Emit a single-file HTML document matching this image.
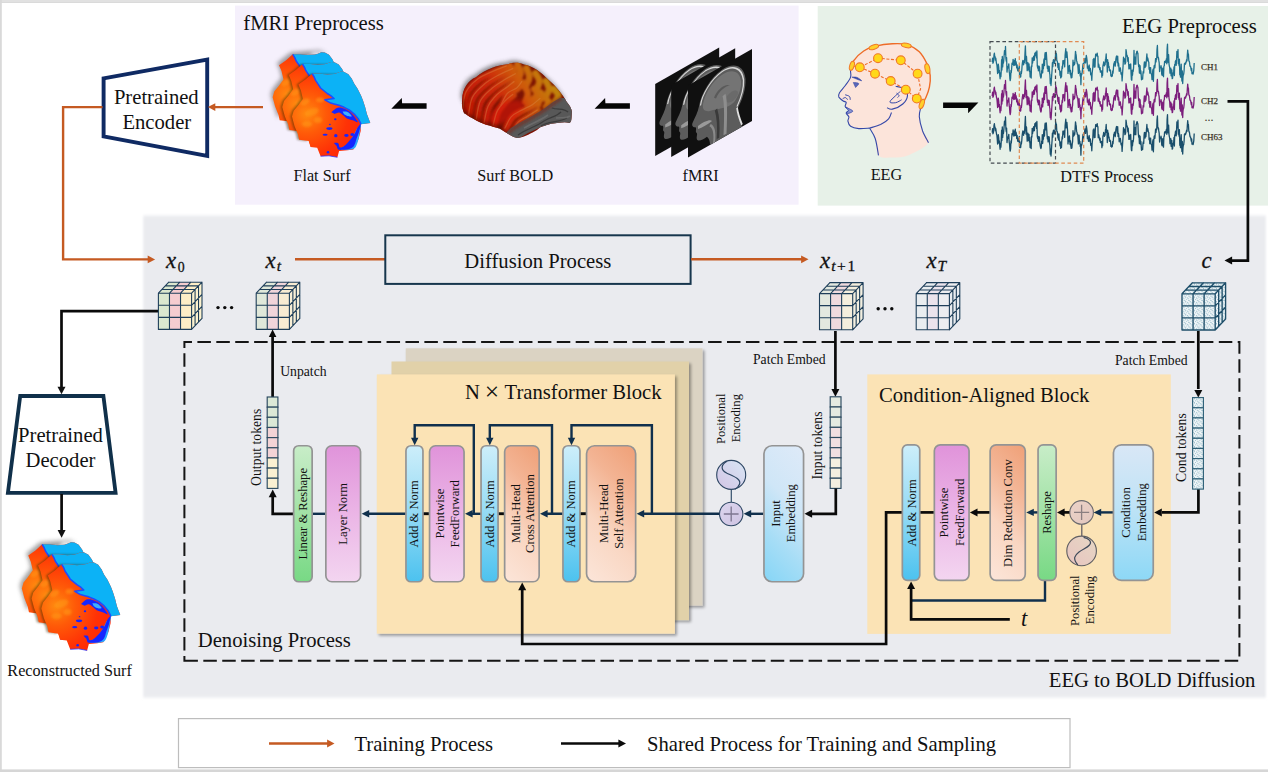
<!DOCTYPE html>
<html><head><meta charset="utf-8"><title>EEG to BOLD Diffusion</title>
<style>
html,body{margin:0;padding:0;background:#fff;}
body{width:1268px;height:772px;overflow:hidden;font-family:"Liberation Serif",serif;}
svg{display:block;font-family:"Liberation Serif",serif;}
</style></head><body>
<svg width="1268" height="772" viewBox="0 0 1268 772">
<defs>
<linearGradient id="gAdd" x1="0" y1="0" x2="0" y2="1"><stop offset="0" stop-color="#cdeefa"/><stop offset="0.45" stop-color="#9adcf5"/><stop offset="1" stop-color="#4cc2ef"/></linearGradient>
<linearGradient id="gPink" x1="0" y1="0" x2="0" y2="1"><stop offset="0" stop-color="#e093da"/><stop offset="0.5" stop-color="#ebb5e6"/><stop offset="1" stop-color="#f3d5f0"/></linearGradient>
<linearGradient id="gOr" x1="1" y1="0" x2="0" y2="1"><stop offset="0" stop-color="#efa077"/><stop offset="0.5" stop-color="#f6c3a8"/><stop offset="1" stop-color="#fce5d8"/></linearGradient>
<linearGradient id="gOrV" x1="0" y1="0" x2="0" y2="1"><stop offset="0" stop-color="#efa27a"/><stop offset="0.5" stop-color="#f6c6ad"/><stop offset="1" stop-color="#fce4d8"/></linearGradient>
<linearGradient id="gGreen" x1="0" y1="0" x2="0" y2="1"><stop offset="0" stop-color="#c8edc8"/><stop offset="0.5" stop-color="#a2e2a6"/><stop offset="1" stop-color="#78d985"/></linearGradient>
<linearGradient id="gBlue" x1="1" y1="0" x2="0" y2="1"><stop offset="0" stop-color="#dde9f8"/><stop offset="0.45" stop-color="#c3e4f7"/><stop offset="1" stop-color="#86d6f6"/></linearGradient>
<linearGradient id="gBlueV" x1="0" y1="0" x2="0" y2="1"><stop offset="0" stop-color="#d9e7f6"/><stop offset="0.45" stop-color="#bfe3f6"/><stop offset="1" stop-color="#8dd8f6"/></linearGradient>
<linearGradient id="gCircP" x1="0" y1="0" x2="1" y2="1"><stop offset="0" stop-color="#dcd6ee"/><stop offset="1" stop-color="#cfc3e2"/></linearGradient>
<linearGradient id="gCircS" x1="1" y1="0" x2="0" y2="1"><stop offset="0" stop-color="#d8e6f5"/><stop offset="1" stop-color="#d2c4e4"/></linearGradient>
<linearGradient id="gCircP2" x1="0" y1="0" x2="1" y2="1"><stop offset="0" stop-color="#ecd3c8"/><stop offset="1" stop-color="#e2c6be"/></linearGradient>
<linearGradient id="gCircS2" x1="1" y1="0" x2="0" y2="1"><stop offset="0" stop-color="#e6d7c4"/><stop offset="1" stop-color="#e8c4c0"/></linearGradient>
<filter id="sh" x="-5%" y="-5%" width="112%" height="112%"><feGaussianBlur in="SourceAlpha" stdDeviation="1.5"/><feOffset dx="1.6" dy="2"/><feComponentTransfer><feFuncA type="linear" slope="0.36"/></feComponentTransfer><feMerge><feMergeNode/><feMergeNode in="SourceGraphic"/></feMerge></filter>
<filter id="b13" x="-1%" y="-2%" width="102%" height="104%"><feGaussianBlur stdDeviation="1.1 1.7"/></filter>
<filter id="b1"><feGaussianBlur stdDeviation="1"/></filter>
<filter id="b08"><feGaussianBlur stdDeviation="0.8"/></filter>
<filter id="b05"><feGaussianBlur stdDeviation="0.5"/></filter>
<filter id="b2"><feGaussianBlur stdDeviation="2"/></filter>
<filter id="b3"><feGaussianBlur stdDeviation="3"/></filter>
<pattern id="spk" width="4.4" height="4.4" patternUnits="userSpaceOnUse"><rect width="4.4" height="4.4" fill="#f1f6f8"/><circle cx="0.9" cy="1.1" r="0.5" fill="#3f829c"/><circle cx="3.1" cy="0.5" r="0.42" fill="#5594ac"/><circle cx="2.1" cy="2.5" r="0.5" fill="#3f829c"/><circle cx="3.9" cy="3.3" r="0.45" fill="#5594ac"/><circle cx="0.6" cy="3.7" r="0.42" fill="#62a0b6"/></pattern>
</defs>

<rect width="1268" height="772" fill="#ffffff"/>
<rect x="235" y="5.6" width="563.6" height="199.1" fill="#f5f0fc"/>
<rect x="817.7" y="6.0" width="451" height="199.6" fill="#e7f1e8"/>
<rect x="143.3" y="215.6" width="1122.5" height="482" fill="#eaebef" filter="url(#b13)"/>
<polygon points="103.6,78.4 207.2,59.6 207.2,156.0 103.6,136.4" fill="#fff" stroke="#0f2a63" stroke-width="3.9" stroke-linejoin="miter"/>
<text x="156.3" y="103.8" font-size="20.65" text-anchor="middle" fill="#111" >Pretrained</text>
<text x="156.8" y="129.0" font-size="20.65" text-anchor="middle" fill="#111" >Encoder</text>
<polyline points="263.0,107.1 214.0,107.1" fill="none" stroke="#c55a22" stroke-width="2.4" />
<polygon points="207.9,107.1 215.3,103.2 215.3,111.0" fill="#c55a22"/>
<polyline points="102.5,107.1 63.1,107.1 63.1,259.4 148.0,259.4" fill="none" stroke="#c55a22" stroke-width="2.4" />
<polygon points="155.1,259.4 147.7,255.5 147.7,263.3" fill="#c55a22"/>
<polyline points="158.4,311.2 61.5,311.2 61.5,388.0" fill="none" stroke="#0a0a0a" stroke-width="2.7" />
<polygon points="61.5,394.3 57.5,386.7 65.5,386.7" fill="#111"/>
<polygon points="20.2,396.0 103.4,396.0 115.6,492.9 7.9,492.9" fill="#fff" stroke="#10304a" stroke-width="3.8"/>
<text x="60.5" y="442.3" font-size="20.65" text-anchor="middle" fill="#111" >Pretrained</text>
<text x="60.5" y="467.2" font-size="20.65" text-anchor="middle" fill="#111" >Decoder</text>
<polyline points="61.6,494.0 61.6,531.0" fill="none" stroke="#0a0a0a" stroke-width="2.7" />
<polygon points="61.6,537.7 57.6,530.1 65.6,530.1" fill="#111"/>
<text x="69.6" y="676.0" font-size="16.2" text-anchor="middle" fill="#111" >Reconstructed Surf</text>
<text x="243.3" y="30.4" font-size="20.65" text-anchor="start" fill="#111" >fMRI Preprocess</text>
<text x="1256.8" y="32.6" font-size="20.65" text-anchor="end" fill="#111" >EEG Preprocess</text>
<text x="322.0" y="181.0" font-size="16.2" text-anchor="middle" fill="#111" >Flat Surf</text>
<text x="515.3" y="181.0" font-size="16.2" text-anchor="middle" fill="#111" >Surf BOLD</text>
<text x="700.6" y="181.0" font-size="16.2" text-anchor="middle" fill="#111" >fMRI</text>
<text x="886.4" y="180.0" font-size="16.2" text-anchor="middle" fill="#111" >EEG</text>
<text x="1106.8" y="181.8" font-size="16.2" text-anchor="middle" fill="#111" >DTFS Process</text>
<polygon points="391.3,108.7 401.8,98.0 402.1,103.2 426.6,103.2 426.6,108.7" fill="#050505"/>
<polygon points="594.6,108.7 605.1,98.0 605.4,103.2 629.9,103.2 629.9,108.7" fill="#050505"/>
<polygon points="943.1,102.6 978.4,102.6 968.1,113.3 968.1,107.9 943.1,107.9" fill="#050505"/>
<polyline points="1227.5,101.4 1247.9,101.4 1247.9,260.6 1232.0,260.6" fill="none" stroke="#0a0a0a" stroke-width="2.7" />
<polygon points="1224.5,260.6 1232.1,256.6 1232.1,264.6" fill="#0a0a0a"/>
<polyline points="295.0,259.3 385.2,259.3" fill="none" stroke="#c55a22" stroke-width="2.4" />
<rect x="385.3" y="235.3" width="305.3" height="48.6" fill="#eaebef" stroke="#17364d" stroke-width="2"/>
<text x="537.8" y="267.5" font-size="20.65" text-anchor="middle" fill="#111" >Diffusion Process</text>
<polyline points="691.0,259.3 802.0,259.3" fill="none" stroke="#c55a22" stroke-width="2.4" />
<polygon points="808.5,259.3 801.1,255.4 801.1,263.2" fill="#c55a22"/>
<text x="166" y="268" font-size="22.8" font-style="italic" fill="#111" stroke="#111" stroke-width="0.3">x</text><text x="177.8" y="272" font-size="13.8" fill="#111" stroke="#111" stroke-width="0.3">0</text>
<text x="265.6" y="268.0" font-size="22.8" font-style="italic" fill="#111" stroke="#111" stroke-width="0.3">x</text><text x="276.8" y="271.2" font-size="15.5" font-style="italic" fill="#111" letter-spacing="0" stroke="#111" stroke-width="0.3">t</text>
<text x="820.0" y="268.0" font-size="22.8" font-style="italic" fill="#111" stroke="#111" stroke-width="0.3">x</text><text x="831.2" y="271.2" font-size="15.5" font-style="italic" fill="#111" letter-spacing="1.6" stroke="#111" stroke-width="0.3">t<tspan font-style="normal">+1</tspan></text>
<text x="926.4" y="268.0" font-size="22.8" font-style="italic" fill="#111" stroke="#111" stroke-width="0.3">x</text><text x="937.6" y="271.2" font-size="15.5" font-style="italic" fill="#111" letter-spacing="0" stroke="#111" stroke-width="0.3">T</text>
<text x="1201.5" y="267.8" font-size="22.8" font-style="italic" fill="#111" stroke="#111" stroke-width="0.3">c</text>
<rect x="158.40" y="293.20" width="11.07" height="36.20" fill="#dbe8cf"/><rect x="169.47" y="293.20" width="11.07" height="36.20" fill="#f5cdd0"/><rect x="180.53" y="293.20" width="11.07" height="36.20" fill="#fdeec6"/><polygon points="158.40,293.20 169.47,293.20 179.87,282.20 168.80,282.20" fill="#dbe8cf"/><polygon points="169.47,293.20 180.53,293.20 190.93,282.20 179.87,282.20" fill="#f5cdd0"/><polygon points="180.53,293.20 191.60,293.20 202.00,282.20 190.93,282.20" fill="#fdeec6"/><polygon points="191.60,293.20 202.00,282.20 202.00,318.40 191.60,329.40" fill="#fdf3cf"/><path d="M158.40 293.20V329.40M158.40 293.20H191.60M158.40 293.20l10.40 -11.00M158.40 293.20h33.20M191.60 293.20v36.20M191.60 293.20l10.40 -11.00M169.47 293.20V329.40M158.40 305.27H191.60M169.47 293.20l10.40 -11.00M161.87 289.53h33.20M195.07 289.53v36.20M191.60 305.27l10.40 -11.00M180.53 293.20V329.40M158.40 317.33H191.60M180.53 293.20l10.40 -11.00M165.33 285.87h33.20M198.53 285.87v36.20M191.60 317.33l10.40 -11.00M191.60 293.20V329.40M158.40 329.40H191.60M191.60 293.20l10.40 -11.00M168.80 282.20h33.20M202.00 282.20v36.20M191.60 329.40l10.40 -11.00" fill="none" stroke="#1f3f5a" stroke-width="1.1" stroke-linejoin="round" stroke-linecap="round"/>
<rect x="256.20" y="293.20" width="11.07" height="36.20" fill="#e0e8da"/><rect x="267.27" y="293.20" width="11.07" height="36.20" fill="#f0d5da"/><rect x="278.33" y="293.20" width="11.07" height="36.20" fill="#f8ecd2"/><polygon points="256.20,293.20 267.27,293.20 277.67,282.20 266.60,282.20" fill="#e0e8da"/><polygon points="267.27,293.20 278.33,293.20 288.73,282.20 277.67,282.20" fill="#f0d5da"/><polygon points="278.33,293.20 289.40,293.20 299.80,282.20 288.73,282.20" fill="#f8ecd2"/><polygon points="289.40,293.20 299.80,282.20 299.80,318.40 289.40,329.40" fill="#f8efd6"/><path d="M256.20 293.20V329.40M256.20 293.20H289.40M256.20 293.20l10.40 -11.00M256.20 293.20h33.20M289.40 293.20v36.20M289.40 293.20l10.40 -11.00M267.27 293.20V329.40M256.20 305.27H289.40M267.27 293.20l10.40 -11.00M259.67 289.53h33.20M292.87 289.53v36.20M289.40 305.27l10.40 -11.00M278.33 293.20V329.40M256.20 317.33H289.40M278.33 293.20l10.40 -11.00M263.13 285.87h33.20M296.33 285.87v36.20M289.40 317.33l10.40 -11.00M289.40 293.20V329.40M256.20 329.40H289.40M289.40 293.20l10.40 -11.00M266.60 282.20h33.20M299.80 282.20v36.20M289.40 329.40l10.40 -11.00" fill="none" stroke="#1f3f5a" stroke-width="1.1" stroke-linejoin="round" stroke-linecap="round"/>
<rect x="819.50" y="293.60" width="11.07" height="36.20" fill="#e3e9e0"/><rect x="830.57" y="293.60" width="11.07" height="36.20" fill="#efdade"/><rect x="841.63" y="293.60" width="11.07" height="36.20" fill="#f4eedd"/><polygon points="819.50,293.60 830.57,293.60 840.97,282.60 829.90,282.60" fill="#e3e9e0"/><polygon points="830.57,293.60 841.63,293.60 852.03,282.60 840.97,282.60" fill="#efdade"/><polygon points="841.63,293.60 852.70,293.60 863.10,282.60 852.03,282.60" fill="#f4eedd"/><polygon points="852.70,293.60 863.10,282.60 863.10,318.80 852.70,329.80" fill="#f3efe0"/><path d="M819.50 293.60V329.80M819.50 293.60H852.70M819.50 293.60l10.40 -11.00M819.50 293.60h33.20M852.70 293.60v36.20M852.70 293.60l10.40 -11.00M830.57 293.60V329.80M819.50 305.67H852.70M830.57 293.60l10.40 -11.00M822.97 289.93h33.20M856.17 289.93v36.20M852.70 305.67l10.40 -11.00M841.63 293.60V329.80M819.50 317.73H852.70M841.63 293.60l10.40 -11.00M826.43 286.27h33.20M859.63 286.27v36.20M852.70 317.73l10.40 -11.00M852.70 293.60V329.80M819.50 329.80H852.70M852.70 293.60l10.40 -11.00M829.90 282.60h33.20M863.10 282.60v36.20M852.70 329.80l10.40 -11.00" fill="none" stroke="#1f3f5a" stroke-width="1.1" stroke-linejoin="round" stroke-linecap="round"/>
<rect x="916.20" y="293.60" width="11.07" height="36.20" fill="#e9edf0"/><rect x="927.27" y="293.60" width="11.07" height="36.20" fill="#ebe3ec"/><rect x="938.33" y="293.60" width="11.07" height="36.20" fill="#ecedf0"/><polygon points="916.20,293.60 927.27,293.60 937.67,282.60 926.60,282.60" fill="#e9edf0"/><polygon points="927.27,293.60 938.33,293.60 948.73,282.60 937.67,282.60" fill="#ebe3ec"/><polygon points="938.33,293.60 949.40,293.60 959.80,282.60 948.73,282.60" fill="#ecedf0"/><polygon points="949.40,293.60 959.80,282.60 959.80,318.80 949.40,329.80" fill="#e9ecf0"/><path d="M916.20 293.60V329.80M916.20 293.60H949.40M916.20 293.60l10.40 -11.00M916.20 293.60h33.20M949.40 293.60v36.20M949.40 293.60l10.40 -11.00M927.27 293.60V329.80M916.20 305.67H949.40M927.27 293.60l10.40 -11.00M919.67 289.93h33.20M952.87 289.93v36.20M949.40 305.67l10.40 -11.00M938.33 293.60V329.80M916.20 317.73H949.40M938.33 293.60l10.40 -11.00M923.13 286.27h33.20M956.33 286.27v36.20M949.40 317.73l10.40 -11.00M949.40 293.60V329.80M916.20 329.80H949.40M949.40 293.60l10.40 -11.00M926.60 282.60h33.20M959.80 282.60v36.20M949.40 329.80l10.40 -11.00" fill="none" stroke="#1f3f5a" stroke-width="1.1" stroke-linejoin="round" stroke-linecap="round"/>
<rect x="1182.00" y="293.80" width="11.07" height="36.20" fill="url(#spk)"/><rect x="1193.07" y="293.80" width="11.07" height="36.20" fill="url(#spk)"/><rect x="1204.13" y="293.80" width="11.07" height="36.20" fill="url(#spk)"/><polygon points="1182.00,293.80 1193.07,293.80 1203.47,282.80 1192.40,282.80" fill="url(#spk)"/><polygon points="1193.07,293.80 1204.13,293.80 1214.53,282.80 1203.47,282.80" fill="url(#spk)"/><polygon points="1204.13,293.80 1215.20,293.80 1225.60,282.80 1214.53,282.80" fill="url(#spk)"/><polygon points="1215.20,293.80 1225.60,282.80 1225.60,319.00 1215.20,330.00" fill="url(#spk)"/><path d="M1182.00 293.80V330.00M1182.00 293.80H1215.20M1182.00 293.80l10.40 -11.00M1182.00 293.80h33.20M1215.20 293.80v36.20M1215.20 293.80l10.40 -11.00M1193.07 293.80V330.00M1182.00 305.87H1215.20M1193.07 293.80l10.40 -11.00M1185.47 290.13h33.20M1218.67 290.13v36.20M1215.20 305.87l10.40 -11.00M1204.13 293.80V330.00M1182.00 317.93H1215.20M1204.13 293.80l10.40 -11.00M1188.93 286.47h33.20M1222.13 286.47v36.20M1215.20 317.93l10.40 -11.00M1215.20 293.80V330.00M1182.00 330.00H1215.20M1215.20 293.80l10.40 -11.00M1192.40 282.80h33.20M1225.60 282.80v36.20M1215.20 330.00l10.40 -11.00" fill="none" stroke="#1f4f6a" stroke-width="1.35" stroke-linejoin="round" stroke-linecap="round"/>
<circle cx="218.0" cy="307.6" r="1.7" fill="#0a0a0a"/><circle cx="224.8" cy="307.6" r="1.7" fill="#0a0a0a"/><circle cx="231.6" cy="307.6" r="1.7" fill="#0a0a0a"/>
<circle cx="878.2" cy="308.8" r="1.7" fill="#0a0a0a"/><circle cx="885.0" cy="308.8" r="1.7" fill="#0a0a0a"/><circle cx="891.8" cy="308.8" r="1.7" fill="#0a0a0a"/>
<path d="M184.4 660.7H1239.4V342H184.4Z" fill="none" stroke="#151515" stroke-width="2" stroke-dasharray="13.5 5.415"/>
<text x="197.8" y="647.4" font-size="20.65" text-anchor="start" fill="#111" >Denoising Process</text>
<text x="1255.4" y="687.1" font-size="20.65" text-anchor="end" fill="#111" >EEG to BOLD Diffusion</text>
<rect x="178.5" y="718.6" width="891.5" height="49" fill="#fff" stroke="#bdbdbd" stroke-width="1.2"/>
<polyline points="269.0,743.5 328.0,743.5" fill="none" stroke="#c55a22" stroke-width="2.4" />
<polygon points="334.5,743.5 327.1,739.6 327.1,747.4" fill="#c55a22"/>
<text x="354.4" y="750.6" font-size="20.65" text-anchor="start" fill="#111" >Training Process</text>
<polyline points="561.0,743.5 620.0,743.5" fill="none" stroke="#0a0a0a" stroke-width="2.7" />
<polygon points="626.0,743.5 618.4,739.5 618.4,747.5" fill="#0a0a0a"/>
<text x="647.0" y="750.6" font-size="20.65" text-anchor="start" fill="#111" >Shared Process for Training and Sampling</text>
<defs>
<radialGradient id="fsG" gradientUnits="userSpaceOnUse" cx="46.3" cy="74.1" r="55.6"><stop offset="0" stop-color="#ff8a10"/><stop offset="0.35" stop-color="#ff5a08"/><stop offset="0.75" stop-color="#ff3206"/><stop offset="1" stop-color="#ff2806"/></radialGradient>
<g id="fsL">
<polygon points="52.2,33.7 45.5,39.6 38.4,44.6 40.9,50.5 42.9,58.9 37.9,65.7 33.7,70.7 32.0,76.6 34.5,85.9 37.9,94.3 39.1,99.7 48.8,101.0 50.5,106.9 57.2,107.7 60.6,116.2 69.0,115.8 77.4,117.3 79.1,111.1 87.5,110.3 93.4,109.4 98.5,99.3 100.7,90.9 101.0,84.2 110.3,83.0 106.9,74.1 105.2,67.3 103.0,60.6 101.0,55.6 97.6,48.8 94.3,43.8 91.8,38.7 88.4,34.2 84.2,32.0 80.8,31.6 76.6,33.3 74.1,34.0 67.3,34.5 59.8,33.7" fill="url(#fsG)"/>
<path d="M101.3 83.5C101.1 84.7 100.5 88.3 100.0 90.8C99.6 93.3 99.3 95.9 98.6 98.6C97.9 101.3 97.0 105.0 95.7 106.9C94.4 108.7 93.6 109.1 90.8 109.5C88.1 109.9 79.8 110.1 79.2 109.3C78.5 108.4 84.7 106.5 86.9 104.4C89.2 102.3 91.1 99.2 92.8 96.6C94.4 94.1 96.0 90.2 96.6 88.9Z" fill="#2aa6ff"/>
<g fill="#1626ff">
<path d="M73.8 103.0C74.5 103.0 77.2 102.5 78.2 103.3C79.2 104.0 78.7 106.8 79.6 107.3C80.5 107.9 82.2 107.1 83.5 106.4C84.8 105.6 86.1 104.3 87.4 103.0C88.7 101.7 90.0 100.3 91.3 98.6C92.6 96.9 94.1 94.6 95.2 92.8C96.2 90.9 96.7 88.9 97.6 87.4C98.5 86.0 100.5 83.3 100.7 84.0C101.0 84.7 99.8 89.4 99.1 91.8C98.4 94.2 97.5 96.3 96.6 98.6C95.8 100.9 95.4 103.7 94.2 105.4C93.1 107.1 91.7 108.1 89.8 108.8C88.0 109.5 85.0 109.7 83.0 109.8C81.1 109.9 79.2 110.1 78.2 109.5C77.1 108.8 77.0 106.5 76.7 105.9Z"/>
<path d="M71.4 72.2C72.4 71.4 75.4 68.2 77.7 67.7C80.0 67.2 82.6 68.0 85.0 69.0C87.4 70.1 89.8 71.7 92.0 73.9C94.1 76.1 97.7 81.0 97.8 82.1C97.9 83.1 94.6 80.9 92.8 80.3C90.9 79.7 88.5 79.2 86.9 78.4C85.4 77.6 84.8 76.4 83.5 75.5C82.2 74.5 80.6 72.8 79.2 72.5C77.7 72.3 75.5 73.7 74.8 73.9Z"/>
<ellipse cx="75.3" cy="79.2" rx="1.2" ry="1.0"/>
<ellipse cx="69.9" cy="84.5" rx="0.8" ry="0.7"/>
<ellipse cx="69.4" cy="88.6" rx="3.1" ry="1.3"/>
<ellipse cx="65.1" cy="94.7" rx="2.5" ry="1.0"/>
<ellipse cx="75.8" cy="95.7" rx="1.7" ry="1.6"/>
<ellipse cx="86.4" cy="95.5" rx="2.1" ry="1.4"/>
<ellipse cx="92.3" cy="94.5" rx="1.9" ry="1.5"/>
<ellipse cx="68.0" cy="112.2" rx="1.3" ry="1.2"/>
<ellipse cx="79.2" cy="64.6" rx="1.9" ry="1.0"/>
</g>
<path d="M82.6 71.6C83.4 71.7 86.4 71.4 87.9 72.2C89.4 72.9 91.9 75.6 91.8 76.2C91.7 76.9 88.7 76.4 87.4 76.0C86.1 75.7 84.6 74.6 84.0 74.3Z" fill="#3fb0ff"/>
<polygon points="52.2,33.7 59.8,33.7 67.3,34.5 74.1,34.0 76.6,33.3 80.8,31.6 84.2,32.0 88.4,34.2 91.8,38.7 94.3,43.8 97.6,48.8 101.0,55.6 103.0,60.6 105.2,67.3 106.9,74.1 110.3,83.0 101.0,84.2 98.5,79.1 94.3,74.1 89.2,69.9 84.2,67.3 79.1,65.3 74.1,64.0 70.7,63.1 64.8,59.8 74.1,58.6 70.7,55.6 67.3,53.5 63.6,50.5 60.6,48.0 58.1,44.1 55.6,40.4 54.2,37.0" fill="#0cb2f6"/>
<polyline points="52.2,33.7 54.2,37.0 55.6,40.4 58.1,44.1 60.6,48.0 63.6,50.5 67.3,53.5 70.7,55.6 74.1,58.6 64.8,59.8 70.7,63.1 74.1,64.0 79.1,65.3 84.2,67.3 89.2,69.9 94.3,74.1 98.5,79.1 101.0,84.2" fill="none" stroke="#1f4cff" stroke-width="1.5" stroke-linejoin="round"/>
<polyline points="60.6,116.2 69.0,115.8 77.4,117.3" fill="none" stroke="#2a35ff" stroke-width="0.8"/>
<g fill="#ff9a18" opacity="0.55" filter="url(#b1)"><ellipse cx="45" cy="62" rx="5" ry="3" transform="rotate(-30 45 62)"/><ellipse cx="52" cy="72" rx="7" ry="3.5" transform="rotate(-20 52 72)"/><ellipse cx="47" cy="84" rx="5" ry="3"/><ellipse cx="60" cy="60" rx="4" ry="2.5"/><ellipse cx="58" cy="80" rx="4" ry="3"/></g>
</g>
<g id="fsAll">
<polygon points="52.2,33.7 38.4,44.6 40.9,50.5 42.9,58.9 33.7,70.7 32.0,76.6 39.1,99.7 50.5,84.2 67.3,50.5 74.1,34.0 88.4,34.2 80.8,31.6" fill="#555" opacity="0.55" filter="url(#b2)" transform="translate(-21.5 -21.5)"/>
<use href="#fsL" transform="translate(-19.4 -19.4)"/>
<polygon points="52.2,33.7 45.5,39.6 38.4,44.6 40.9,50.5 42.9,58.9 37.9,65.7 33.7,70.7 32.0,76.6 34.5,85.9 37.9,94.3 39.1,99.7 48.8,101.0 50.5,94.3 50.5,67.3 55.6,50.5 67.3,38.7 84.2,36.2 88.4,34.2" fill="#3a2a00" opacity="0.5" filter="url(#b1)" transform="translate(-11.5 -9.7)"/>
<use href="#fsL" transform="translate(-9.7 -9.7)"/>
<polygon points="52.2,33.7 45.5,39.6 38.4,44.6 40.9,50.5 42.9,58.9 37.9,65.7 33.7,70.7 32.0,76.6 34.5,85.9 37.9,94.3 39.1,99.7 48.8,101.0 50.5,94.3 50.5,67.3 55.6,50.5 67.3,38.7 84.2,36.2 88.4,34.2" fill="#3a2a00" opacity="0.5" filter="url(#b1)" transform="translate(-1.8 0)"/>
<use href="#fsL"/>
</g>
<linearGradient id="brG" gradientUnits="userSpaceOnUse" x1="470" y1="125" x2="560" y2="70"><stop offset="0" stop-color="#d81606"/><stop offset="0.38" stop-color="#ee3208"/><stop offset="0.62" stop-color="#ee6a0c"/><stop offset="0.85" stop-color="#e09a0c"/><stop offset="1" stop-color="#d8b010"/></linearGradient>
<clipPath id="brC"><path id="brP" d="M462.3 99.2C462 90 468 80 475.9 77.2C486 69 497 65 508.3 64.2C513 62 520 62.5 524 64.5C533 66 541 72 548.4 79.8C556 86 563 95 566.6 101.8C569.5 105 572.5 110 571.8 113C571.5 119 571.5 122 569.5 123C564 121.5 560 123 551 123.8C545 126 541 126 537 130C531 133 526 137 517.4 138.1C512 137 509 134 505 132C500 128 497 128 491 126C483 124 478 121.5 473.3 118.7C468 116 465 113 464.2 113.5C462 108 461.5 104 462.3 99.2Z"/></clipPath>
</defs>
<use href="#fsAll" transform="translate(260 40)"/>
<use href="#fsAll" transform="translate(9.1 529.6) scale(1.008 1.03)"/>
<path d="M462.3 99.2C462 90 468 80 475.9 77.2C486 69 497 65 508.3 64.2C513 62 520 62.5 524 64.5C533 66 541 72 548.4 79.8C556 86 563 95 566.6 101.8L520 110 470 115Z" fill="#444" opacity="0.6" filter="url(#b2)" transform="translate(-1.5 -2.2)"/>
<g clip-path="url(#brC)">
<rect x="455" y="55" width="125" height="90" fill="#8c1606"/>
<g fill="none" stroke="url(#brG)" stroke-width="6.6" stroke-linecap="round" stroke-linejoin="round" filter="url(#b08)">
<path d="M463.6 108.9C464.1 106.2 464.4 97.6 466.8 92.7C469.3 87.9 474.0 83.2 478.5 79.8C483.0 76.3 489.3 74.2 494.0 72.0C498.8 69.9 504.8 67.7 507.0 66.8"/>
<path d="M469.4 114.8C470.1 112.0 470.7 102.9 473.3 97.9C475.9 93.0 480.7 88.6 485.0 85.0C489.3 81.3 494.5 78.5 499.2 75.9C504.0 73.3 511.1 70.5 513.5 69.4"/>
<path d="M477.2 119.3C477.8 116.4 478.7 106.7 481.1 101.8C483.5 97.0 487.6 93.6 491.5 90.2C495.3 86.7 500.3 83.7 504.4 81.1C508.5 78.5 514.1 75.7 516.1 74.6"/>
<path d="M485.0 123.2C485.6 120.5 486.7 111.6 488.9 107.0C491.0 102.4 494.7 98.6 497.9 95.3C501.2 92.1 505.5 89.7 508.3 87.6C511.1 85.4 513.7 83.2 514.8 82.4"/>
<path d="M494.0 125.8C494.7 123.5 496.0 116.2 497.9 112.2C499.9 108.2 503.1 104.6 505.7 101.8C508.3 99.0 512.2 96.4 513.5 95.3"/>
<path d="M501.8 105.7C502.9 103.8 505.7 96.8 508.3 94.0C510.9 91.2 515.0 90.8 517.4 88.9C519.7 86.9 521.7 83.5 522.5 82.4"/>
<path d="M505.7 129.0C506.8 127.1 509.4 120.4 512.2 117.4C515.0 114.3 519.1 112.8 522.5 110.9C526.0 108.9 529.9 107.6 532.9 105.7C535.9 103.8 539.4 100.3 540.7 99.2"/>
<path d="M513.5 132.9C514.3 131.3 516.1 125.9 518.7 123.2C521.2 120.5 525.8 118.8 529.0 116.7C532.3 114.7 536.6 111.9 538.1 110.9"/>
<path d="M517.4 64.2C517.9 65.8 520.6 70.6 520.6 73.3C520.6 76.0 517.9 79.3 517.4 80.4"/>
<path d="M509.6 65.5C510.0 66.4 512.0 69.0 512.2 70.7C512.4 72.5 511.1 75.0 510.9 75.9"/>
<path d="M526.4 68.1C526.9 69.6 529.3 74.4 529.3 77.2C529.3 80.0 526.9 83.7 526.4 85.0"/>
<path d="M535.5 73.3C536.1 74.6 539.2 78.5 539.4 81.1C539.6 83.7 537.2 87.6 536.8 88.9"/>
<path d="M545.9 81.1C546.4 82.4 549.0 86.5 549.1 88.9C549.2 91.2 546.9 94.3 546.5 95.3"/>
<path d="M522.5 83.7C523.4 85.2 527.3 89.7 527.7 92.7C528.2 95.8 525.6 100.3 525.1 101.8"/>
<path d="M534.2 88.9C535.1 90.2 538.7 94.0 539.4 96.6C540.0 99.2 538.3 103.1 538.1 104.4"/>
<path d="M543.3 96.6C544.1 97.5 548.0 100.1 548.4 101.8C548.9 103.5 546.3 106.1 545.9 107.0"/>
<path d="M553.6 88.9C554.4 89.9 557.9 93.2 558.2 95.3C558.4 97.5 555.5 100.7 554.9 101.8"/>
<path d="M527.7 104.4C528.6 103.5 530.7 101.2 532.9 99.2C535.1 97.3 539.4 93.8 540.7 92.7"/>
</g>
<ellipse cx="506" cy="112" rx="20" ry="9" fill="#ff1a08" opacity="0.55" filter="url(#b2)" transform="rotate(-28 506 112)"/>
<g fill="none" stroke="#ffb060" stroke-width="1.3" stroke-linecap="round" opacity="0.35" filter="url(#b05)">
<path d="M463.6 108.9C464.1 106.2 464.4 97.6 466.8 92.7C469.3 87.9 474.0 83.2 478.5 79.8C483.0 76.3 489.3 74.2 494.0 72.0C498.8 69.9 504.8 67.7 507.0 66.8" transform="translate(-0.8 -0.8)"/>
<path d="M469.4 114.8C470.1 112.0 470.7 102.9 473.3 97.9C475.9 93.0 480.7 88.6 485.0 85.0C489.3 81.3 494.5 78.5 499.2 75.9C504.0 73.3 511.1 70.5 513.5 69.4" transform="translate(-0.8 -0.8)"/>
<path d="M477.2 119.3C477.8 116.4 478.7 106.7 481.1 101.8C483.5 97.0 487.6 93.6 491.5 90.2C495.3 86.7 500.3 83.7 504.4 81.1C508.5 78.5 514.1 75.7 516.1 74.6" transform="translate(-0.8 -0.8)"/>
<path d="M485.0 123.2C485.6 120.5 486.7 111.6 488.9 107.0C491.0 102.4 494.7 98.6 497.9 95.3C501.2 92.1 505.5 89.7 508.3 87.6C511.1 85.4 513.7 83.2 514.8 82.4" transform="translate(-0.8 -0.8)"/>
<path d="M494.0 125.8C494.7 123.5 496.0 116.2 497.9 112.2C499.9 108.2 503.1 104.6 505.7 101.8C508.3 99.0 512.2 96.4 513.5 95.3" transform="translate(-0.8 -0.8)"/>
<path d="M501.8 105.7C502.9 103.8 505.7 96.8 508.3 94.0C510.9 91.2 515.0 90.8 517.4 88.9C519.7 86.9 521.7 83.5 522.5 82.4" transform="translate(-0.8 -0.8)"/>
<path d="M505.7 129.0C506.8 127.1 509.4 120.4 512.2 117.4C515.0 114.3 519.1 112.8 522.5 110.9C526.0 108.9 529.9 107.6 532.9 105.7C535.9 103.8 539.4 100.3 540.7 99.2" transform="translate(-0.8 -0.8)"/>
<path d="M513.5 132.9C514.3 131.3 516.1 125.9 518.7 123.2C521.2 120.5 525.8 118.8 529.0 116.7C532.3 114.7 536.6 111.9 538.1 110.9" transform="translate(-0.8 -0.8)"/>
</g>
<rect x="455" y="55" width="125" height="90" fill="#300800" opacity="0.17"/>
<path d="M462.3 99.2C462.2 100.5 461.2 104.5 461.7 107.0C462.1 109.5 463.0 112.1 464.9 114.1C466.8 116.2 470.2 117.6 473.3 119.3C476.4 121.0 479.6 123.0 483.7 124.5C487.8 126.0 494.0 126.6 497.9 128.4C501.8 130.1 505.5 133.8 507.0 134.8" fill="none" stroke="#3a0802" stroke-width="5" opacity="0.55" filter="url(#b2)"/>
<polygon points="566,98 574,112 572,124 551,124.5 541,127 528,133 517,139.5 505,134 511,128 521,122 533,115.5 543,109.5 553,102 560,98" fill="#585858"/>
<path d="M561.4 97.9C559.9 99.0 555.8 102.0 552.3 104.4C548.9 106.8 544.8 109.6 540.7 112.2C536.6 114.8 532.0 117.4 527.7 119.9C523.4 122.5 518.0 125.6 514.8 127.7C511.5 129.9 509.4 132.0 508.3 132.9" fill="none" stroke="#7a2a1a" stroke-width="4" opacity="0.55" filter="url(#b1)"/>
<g fill="none" stroke="#333" stroke-width="1.3" opacity="0.75" filter="url(#b05)"><path d="M518 135C526 129 536 127 544 121C550 117 556 117 561 112"/><path d="M541 126C549 121 557 123 567 118"/><path d="M552 108C558 110 564 108 568 112"/></g>
<g fill="none" stroke="#777" stroke-width="1.6" opacity="0.6" filter="url(#b05)"><path d="M524 128C532 123 540 121 548 115"/><path d="M556 118C562 117 566 119 570 116"/></g>
</g>
<g transform="matrix(1 -0.571 0 1 655.2 84.1)"><rect x="0" y="0" width="64" height="72" fill="#101010"/><path d="M11 27C13 16 22 5 34 3.5C46 2.5 56 12 57.5 26C58 36 55 44 50 51C49 56 51 62 54 72L22 72C22 68 21 65 19 62C15 63 10 62 9 59C8 56 10 54 8.5 52C7 50 9 48 7.5 46C5 45 3.5 42 4.5 40C7 36 10 32 11 27Z" fill="#5c5c5c"/><path d="M12.5 27C14 17 23 7 34 5.5C45 4.5 54 13 55.5 26C56 35 53.5 42 49 49" fill="none" stroke="#d8d8d8" stroke-width="1.3"/><path d="M15 27C17 18 24 9.5 34 8.5C44 8 52 15 53 26C53.5 33 51 39 46 43C40 46 30 40 22 38C17 36 14 32 15 27Z" fill="#747474"/><path d="M26 27C29 20 38 19 42 24C38 22 31 23 28 29Z" fill="#5a5a5a"/><ellipse cx="44" cy="36" rx="6" ry="5" fill="#6a6a6a"/><path d="M36 30C38 38 38 50 37 70" fill="none" stroke="#8e8e8e" stroke-width="3"/><path d="M49 50C50 58 52 64 54 70" fill="none" stroke="#e0e0e0" stroke-width="1.6"/><path d="M10 46C16 45 22 46 24 49C20 50 14 50 10 49Z" fill="#9a9a9a"/><path d="M22 52C26 56 27 64 26 72" fill="none" stroke="#8a8a8a" stroke-width="2"/><path d="M28 40C30 48 31 56 30 70" fill="none" stroke="#3a3a3a" stroke-width="2.5"/></g>
<g transform="matrix(1 -0.571 0 1 671.2 84.9)"><rect x="0" y="0" width="64" height="72" fill="#101010"/><path d="M11 27C13 16 22 5 34 3.5C46 2.5 56 12 57.5 26C58 36 55 44 50 51C49 56 51 62 54 72L22 72C22 68 21 65 19 62C15 63 10 62 9 59C8 56 10 54 8.5 52C7 50 9 48 7.5 46C5 45 3.5 42 4.5 40C7 36 10 32 11 27Z" fill="#5c5c5c"/><path d="M12.5 27C14 17 23 7 34 5.5C45 4.5 54 13 55.5 26C56 35 53.5 42 49 49" fill="none" stroke="#d8d8d8" stroke-width="1.3"/><path d="M15 27C17 18 24 9.5 34 8.5C44 8 52 15 53 26C53.5 33 51 39 46 43C40 46 30 40 22 38C17 36 14 32 15 27Z" fill="#747474"/><path d="M26 27C29 20 38 19 42 24C38 22 31 23 28 29Z" fill="#5a5a5a"/><ellipse cx="44" cy="36" rx="6" ry="5" fill="#6a6a6a"/><path d="M36 30C38 38 38 50 37 70" fill="none" stroke="#8e8e8e" stroke-width="3"/><path d="M49 50C50 58 52 64 54 70" fill="none" stroke="#e0e0e0" stroke-width="1.6"/><path d="M10 46C16 45 22 46 24 49C20 50 14 50 10 49Z" fill="#9a9a9a"/><path d="M22 52C26 56 27 64 26 72" fill="none" stroke="#8a8a8a" stroke-width="2"/><path d="M28 40C30 48 31 56 30 70" fill="none" stroke="#3a3a3a" stroke-width="2.5"/></g>
<g transform="matrix(1 -0.571 0 1 688.0 85.6)"><rect x="0" y="0" width="64" height="72" fill="#101010"/><path d="M11 27C13 16 22 5 34 3.5C46 2.5 56 12 57.5 26C58 36 55 44 50 51C49 56 51 62 54 72L22 72C22 68 21 65 19 62C15 63 10 62 9 59C8 56 10 54 8.5 52C7 50 9 48 7.5 46C5 45 3.5 42 4.5 40C7 36 10 32 11 27Z" fill="#5c5c5c"/><path d="M12.5 27C14 17 23 7 34 5.5C45 4.5 54 13 55.5 26C56 35 53.5 42 49 49" fill="none" stroke="#d8d8d8" stroke-width="1.3"/><path d="M15 27C17 18 24 9.5 34 8.5C44 8 52 15 53 26C53.5 33 51 39 46 43C40 46 30 40 22 38C17 36 14 32 15 27Z" fill="#747474"/><path d="M26 27C29 20 38 19 42 24C38 22 31 23 28 29Z" fill="#5a5a5a"/><ellipse cx="44" cy="36" rx="6" ry="5" fill="#6a6a6a"/><path d="M36 30C38 38 38 50 37 70" fill="none" stroke="#8e8e8e" stroke-width="3"/><path d="M49 50C50 58 52 64 54 70" fill="none" stroke="#e0e0e0" stroke-width="1.6"/><path d="M10 46C16 45 22 46 24 49C20 50 14 50 10 49Z" fill="#9a9a9a"/><path d="M22 52C26 56 27 64 26 72" fill="none" stroke="#8a8a8a" stroke-width="2"/><path d="M28 40C30 48 31 56 30 70" fill="none" stroke="#3a3a3a" stroke-width="2.5"/></g>
<path d="M850.3 69.5C850.9 68.0 851.7 63.3 854.0 60.3C856.2 57.2 860.1 53.4 863.7 51.0C867.3 48.6 870.7 47.3 875.5 46.1C880.3 44.9 887.0 44.0 892.3 43.8C897.7 43.5 903.0 43.4 907.5 44.8C912.0 46.1 916.0 48.7 919.3 51.8C922.5 55.0 925.0 59.7 926.9 63.6C928.7 67.5 929.8 71.5 930.2 75.4C930.6 79.3 930.1 83.5 929.4 87.2C928.7 90.8 927.4 94.1 926.0 97.3C924.6 100.5 922.1 103.3 921.0 106.5C919.8 109.8 919.0 112.6 919.3 116.6C919.6 120.7 921.1 126.6 922.6 131.0C924.2 135.3 930.8 138.8 928.5 142.7C926.3 146.7 915.2 152.4 909.2 154.9C903.1 157.3 897.4 157.5 892.3 157.6C887.2 157.6 881.4 158.5 878.5 155.4C875.7 152.2 876.7 143.1 875.2 138.5C873.7 134.0 872.4 129.8 869.6 128.1C866.9 126.4 861.8 128.9 858.7 128.6C855.5 128.3 852.4 127.5 850.6 126.2C848.8 125.0 848.2 122.8 847.9 121.2C847.6 119.6 849.2 118.2 848.9 116.8C848.6 115.5 846.2 114.3 846.2 113.1C846.2 112.0 849.1 111.0 848.9 109.9C848.7 108.8 845.7 107.8 845.2 106.5C844.8 105.3 846.5 103.3 846.2 102.3C845.9 101.4 844.4 101.9 843.2 101.0C841.9 100.1 839.4 98.3 838.8 97.0C838.2 95.6 838.4 94.7 839.5 92.7C840.6 90.8 843.7 87.8 845.5 85.2C847.4 82.6 849.8 79.7 850.6 77.1C851.4 74.5 850.3 70.8 850.3 69.5Z" fill="#fce4da"/>
<path d="M850.3 69.5C850.3 70.8 851.4 74.5 850.6 77.1C849.8 79.7 847.4 82.6 845.5 85.2C843.7 87.8 840.6 90.8 839.5 92.7C838.4 94.7 838.2 95.6 838.8 97.0C839.4 98.3 841.9 100.1 843.2 101.0C844.4 101.9 845.9 101.4 846.2 102.3C846.5 103.3 844.8 105.3 845.2 106.5C845.7 107.8 848.7 108.8 848.9 109.9C849.1 111.0 846.2 112.0 846.2 113.1C846.2 114.3 848.6 115.5 848.9 116.8C849.2 118.2 847.6 119.6 847.9 121.2C848.2 122.8 848.8 125.0 850.6 126.2C852.4 127.5 855.5 128.3 858.7 128.6C861.8 128.9 867.8 128.2 869.6 128.1" fill="none" stroke="#3548a8" stroke-width="1.1"/>
<path d="M869.6 128.1C871.4 127.5 877.4 126.1 880.6 124.6C883.7 123.0 886.8 120.9 888.6 118.8C890.5 116.8 891.0 113.5 891.5 112.4" fill="none" stroke="#3548a8" stroke-width="1.1"/>
<path d="M869.6 128.1C870.5 129.8 873.7 134.0 875.2 138.5C876.7 143.1 878.0 152.6 878.5 155.4" fill="none" stroke="#3548a8" stroke-width="1.1"/>
<path d="M921.0 106.5C920.7 108.2 919.0 112.6 919.3 116.6C919.6 120.7 921.1 126.6 922.6 131.0C924.2 135.3 927.6 140.8 928.5 142.7" fill="none" stroke="#3548a8" stroke-width="1.1"/>
<path d="M850.3 69.5C850.9 68.0 851.7 63.3 854.0 60.3C856.2 57.2 860.1 53.4 863.7 51.0C867.3 48.6 870.7 47.3 875.5 46.1C880.3 44.9 887.0 44.0 892.3 43.8C897.7 43.5 903.0 43.4 907.5 44.8C912.0 46.1 916.0 48.7 919.3 51.8C922.5 55.0 925.0 59.7 926.9 63.6C928.7 67.5 929.8 71.5 930.2 75.4C930.6 79.3 930.1 83.5 929.4 87.2C928.7 90.8 927.4 94.1 926.0 97.3C924.6 100.5 921.8 105.0 921.0 106.5" fill="none" stroke="#ee6c28" stroke-width="1.4"/>
<path d="M895.7 86.3C897.1 86.7 901.8 87.0 903.8 88.5C905.8 90.1 907.7 93.0 907.5 95.6C907.3 98.2 905.3 101.8 902.8 104.0C900.3 106.3 895.0 108.5 892.3 109.1C889.7 109.7 887.9 108.0 887.0 107.7" fill="none" stroke="#3548a8" stroke-width="1.1"/>
<path d="M900.4 91.4C899.6 92.1 897.5 93.8 895.7 95.6C893.9 97.4 889.8 100.8 889.8 102.0C889.8 103.2 893.7 103.0 895.7 102.7C897.7 102.3 900.6 100.3 901.6 99.8" fill="none" stroke="#3548a8" stroke-width="1"/>
<path d="M896.5 93.1C897.0 93.5 898.9 94.8 899.1 95.6C899.2 96.4 897.7 97.3 897.4 97.6" fill="none" stroke="#3548a8" stroke-width="0.9"/>
<path d="M851.9 77.1C852.8 77.1 855.4 76.8 857.0 77.4C858.6 78.0 861.8 80.5 861.7 80.8C861.6 81.1 857.5 79.4 856.6 79.1Z" fill="#3548a8" stroke="#3548a8" stroke-width="0.6"/>
<path d="M853.3 82.5C854.2 82.6 858.3 82.6 858.7 83.5C859.1 84.3 856.1 86.9 855.6 87.5Z" fill="#5a68b8" stroke="#3548a8" stroke-width="0.6"/>
<path d="M845.2 94.8C845.9 95.0 848.6 95.6 849.4 96.4C850.3 97.3 850.1 99.3 850.3 99.8" fill="none" stroke="#3548a8" stroke-width="1"/>
<path d="M842.7 98.6C843.2 98.5 844.7 97.4 845.5 97.6C846.4 97.8 847.4 99.5 847.7 99.8" fill="none" stroke="#3548a8" stroke-width="1"/>
<path d="M845.5 107.1C846.7 107.7 852.6 110.0 852.8 111.1C852.9 112.2 847.3 113.9 846.5 113.8C845.8 113.7 848.2 111.0 848.6 110.4Z" fill="#8a94d0" stroke="#3548a8" stroke-width="0.8"/>
<path d="M851.9 65.8L859.8 67.3L878.0 58.2L900.8 60.3L917.6 73.7L920.6 88.9L916.8 98.6" fill="none" stroke="#ee6c28" stroke-width="1.1" stroke-dasharray="3 1.6"/>
<path d="M859.8 67.3L875.0 73.7L890.7 81.0L905.8 89.7L916.8 98.6" fill="none" stroke="#ee6c28" stroke-width="1.1" stroke-dasharray="3 1.6"/>
<circle cx="878.0" cy="58.2" r="4.4" fill="#ffd81a" stroke="#f07a28" stroke-width="1.1"/>
<circle cx="900.8" cy="60.3" r="4.4" fill="#ffd81a" stroke="#f07a28" stroke-width="1.1"/>
<circle cx="859.8" cy="67.3" r="4.4" fill="#ffd81a" stroke="#f07a28" stroke-width="1.1"/>
<circle cx="875.0" cy="73.7" r="4.4" fill="#ffd81a" stroke="#f07a28" stroke-width="1.1"/>
<circle cx="890.7" cy="81.0" r="4.4" fill="#ffd81a" stroke="#f07a28" stroke-width="1.1"/>
<circle cx="917.6" cy="73.7" r="4.4" fill="#ffd81a" stroke="#f07a28" stroke-width="1.1"/>
<circle cx="905.8" cy="89.7" r="4.4" fill="#ffd81a" stroke="#f07a28" stroke-width="1.1"/>
<circle cx="916.8" cy="98.6" r="4.4" fill="#ffd81a" stroke="#f07a28" stroke-width="1.1"/>
<ellipse cx="873.8" cy="47.1" rx="5" ry="2.2" fill="#ffd02a" stroke="#f07a28" stroke-width="1" transform="rotate(-18 873.8 47.1)"/>
<ellipse cx="906.3" cy="45.4" rx="5" ry="2.2" fill="#ffd02a" stroke="#f07a28" stroke-width="1" transform="rotate(12 906.3 45.4)"/>
<ellipse cx="927.4" cy="68.7" rx="2.4" ry="5" fill="#ffd02a" stroke="#f07a28" stroke-width="1" transform="rotate(-12 927.4 68.7)"/>
<ellipse cx="851.9" cy="65.8" rx="2.2" ry="4.6" fill="#ffd02a" stroke="#f07a28" stroke-width="1" transform="rotate(18 851.9 65.8)"/>
<ellipse cx="921.8" cy="104.0" rx="2.2" ry="5" fill="#ffd02a" stroke="#f07a28" stroke-width="1" transform="rotate(20 921.8 104.0)"/>
<polyline points="992.2,62.1 992.6,58.1 992.9,63.3 993.3,62.4 993.6,61.0 994.0,54.8 994.4,53.2 994.7,56.3 995.1,56.7 995.4,60.2 995.8,58.1 996.2,61.3 996.5,63.5 996.9,64.9 997.2,68.2 997.6,73.5 998.0,71.7 998.3,64.1 998.7,67.0 999.1,72.6 999.4,70.5 999.8,75.9 1000.1,78.8 1000.5,73.0 1000.9,76.7 1001.2,71.6 1001.6,59.6 1001.9,70.1 1002.3,56.5 1002.7,66.9 1003.0,61.5 1003.4,63.1 1003.7,60.8 1004.1,55.9 1004.5,50.6 1004.8,50.7 1005.2,54.3 1005.5,46.5 1005.9,58.5 1006.3,61.2 1006.6,57.6 1007.0,72.1 1007.4,68.5 1007.7,66.7 1008.1,68.0 1008.4,66.1 1008.8,63.8 1009.2,71.8 1009.5,73.0 1009.9,78.9 1010.2,80.6 1010.6,78.5 1011.0,70.4 1011.3,72.5 1011.7,68.0 1012.0,63.2 1012.4,64.5 1012.8,63.6 1013.1,59.4 1013.5,62.6 1013.8,65.5 1014.2,64.4 1014.6,60.3 1014.9,65.0 1015.3,58.6 1015.6,64.8 1016.0,61.7 1016.4,63.6 1016.7,67.9 1017.1,64.8 1017.5,69.3 1017.8,70.9 1018.2,71.0 1018.5,68.1 1018.9,69.2 1019.3,65.8 1019.6,76.8 1020.0,74.9 1020.3,77.1 1020.7,76.9 1021.1,71.4 1021.4,73.4 1021.8,70.0 1022.1,65.7 1022.5,62.4 1022.9,60.3 1023.2,61.3 1023.6,64.8 1023.9,61.1 1024.3,62.9 1024.7,59.0 1025.0,52.9 1025.4,46.0 1025.7,55.5 1026.1,63.7 1026.5,56.5 1026.8,62.5 1027.2,70.7 1027.5,67.5 1027.9,62.6 1028.3,69.8 1028.6,70.0 1029.0,64.0 1029.4,71.4 1029.7,66.9 1030.1,77.0 1030.4,74.6 1030.8,71.1 1031.2,78.0 1031.5,65.8 1031.9,66.6 1032.2,57.8 1032.6,63.0 1033.0,59.2 1033.3,58.2 1033.7,56.1 1034.0,60.4 1034.4,60.0 1034.8,53.3 1035.1,53.1 1035.5,55.7 1035.8,52.1 1036.2,55.0 1036.6,57.9 1036.9,51.0 1037.3,65.9 1037.7,68.1 1038.0,65.8 1038.4,70.9 1038.7,70.0 1039.1,66.1 1039.5,67.2 1039.8,72.4 1040.2,75.1 1040.5,76.8 1040.9,78.1 1041.3,76.8 1041.6,70.7 1042.0,73.1 1042.3,64.1 1042.7,72.8 1043.1,64.3 1043.4,68.6 1043.8,60.5 1044.1,58.9 1044.5,65.5 1044.9,54.5 1045.2,52.7 1045.6,54.1 1045.9,59.4 1046.3,52.5 1046.7,58.5 1047.0,63.6 1047.4,68.4 1047.8,66.3 1048.1,71.4 1048.5,66.2 1048.8,66.3 1049.2,66.6 1049.6,73.4 1049.9,74.7 1050.3,83.7 1050.6,78.4 1051.0,85.5 1051.4,80.3 1051.7,75.0 1052.1,69.8 1052.4,62.7 1052.8,66.6 1053.2,61.0 1053.5,59.7 1053.9,61.0 1054.2,62.5 1054.6,63.4 1055.0,59.3 1055.3,58.8 1055.7,51.5 1056.0,54.6 1056.4,53.6 1056.8,60.6 1057.1,60.6 1057.5,62.2 1057.9,67.4 1058.2,65.8 1058.6,69.4 1058.9,63.4 1059.3,70.0 1059.7,70.8 1060.0,75.3 1060.4,73.8 1060.7,77.9 1061.1,71.4 1061.5,76.9 1061.8,70.2 1062.2,66.2 1062.5,68.3 1062.9,60.6 1063.3,63.5 1063.6,62.8 1064.0,60.3 1064.3,64.1 1064.7,66.8 1065.1,55.3 1065.4,52.2 1065.8,48.7 1066.1,57.3 1066.5,56.7 1066.9,51.9 1067.2,55.6 1067.6,60.3 1068.0,73.4 1068.3,69.6 1068.7,71.2 1069.0,66.7 1069.4,65.3 1069.8,70.4 1070.1,74.0 1070.5,70.4 1070.8,75.3 1071.2,77.9 1071.6,73.6 1071.9,77.5 1072.3,72.9 1072.6,71.4 1073.0,60.2 1073.4,65.2 1073.7,65.5 1074.1,62.7 1074.4,64.6 1074.8,63.2 1075.2,56.1 1075.5,51.3 1075.9,53.9 1076.2,55.5 1076.6,60.9 1077.0,61.8 1077.3,63.8 1077.7,63.7 1078.0,67.9 1078.4,73.4 1078.8,70.6 1079.1,64.7 1079.5,72.6 1079.9,70.9 1080.2,76.0 1080.6,73.7 1080.9,84.7 1081.3,74.2 1081.7,74.7 1082.0,73.3 1082.4,70.7 1082.7,66.6 1083.1,63.7 1083.5,68.6 1083.8,64.8 1084.2,62.0 1084.5,62.4 1084.9,58.4 1085.3,59.2 1085.6,62.9 1086.0,58.8 1086.3,55.4 1086.7,57.7 1087.1,60.6 1087.4,68.2 1087.8,66.6 1088.2,68.1 1088.5,70.8 1088.9,66.0 1089.2,65.0 1089.6,70.3 1090.0,71.2 1090.3,68.4 1090.7,74.8 1091.0,72.8 1091.4,74.7 1091.8,80.3 1092.1,73.7 1092.5,69.9 1092.8,67.8 1093.2,59.3 1093.6,63.8 1093.9,58.4 1094.3,67.2 1094.6,60.5 1095.0,66.9 1095.4,57.5 1095.7,54.1 1096.1,54.4 1096.4,55.7 1096.8,55.9 1097.2,53.1 1097.5,56.1 1097.9,56.1 1098.2,67.2 1098.6,63.9 1099.0,65.5 1099.3,67.7 1099.7,69.6 1100.1,67.6 1100.4,72.1 1100.8,71.5 1101.1,72.1 1101.5,70.8 1101.9,77.1 1102.2,71.1 1102.6,75.3 1102.9,66.0 1103.3,64.8 1103.7,61.9 1104.0,64.3 1104.4,65.9 1104.7,62.8 1105.1,64.7 1105.5,59.1 1105.8,58.4 1106.2,54.0 1106.5,61.9 1106.9,60.3 1107.3,72.1 1107.6,59.6 1108.0,63.5 1108.4,62.7 1108.7,67.4 1109.1,66.6 1109.4,70.8 1109.8,69.4 1110.2,70.7 1110.5,70.2 1110.9,75.9 1111.2,75.2 1111.6,76.7 1112.0,74.7 1112.3,76.0 1112.7,70.9 1113.0,73.1 1113.4,68.8 1113.8,63.7 1114.1,63.9 1114.5,61.6 1114.8,64.2 1115.2,66.1 1115.6,62.4 1115.9,58.8 1116.3,56.8 1116.6,56.0 1117.0,58.4 1117.4,62.7 1117.7,56.2 1118.1,65.9 1118.5,63.0 1118.8,65.2 1119.2,71.3 1119.5,69.6 1119.9,68.7 1120.3,67.9 1120.6,70.0 1121.0,73.7 1121.3,74.5 1121.7,72.8 1122.1,80.9 1122.4,76.4 1122.8,70.4 1123.1,65.8 1123.5,57.2 1123.9,61.4 1124.2,58.5 1124.6,59.2 1124.9,64.2 1125.3,63.6 1125.7,62.3 1126.0,49.6 1126.4,52.0 1126.7,56.0 1127.1,55.4 1127.5,57.0 1127.8,61.3 1128.2,57.6 1128.6,63.7 1128.9,68.9 1129.3,66.4 1129.6,64.7 1130.0,68.6 1130.4,67.0 1130.7,64.0 1131.1,74.3 1131.4,79.6 1131.8,80.3 1132.2,70.2 1132.5,75.3 1132.9,70.8 1133.2,71.5 1133.6,67.4 1134.0,50.5 1134.3,62.5 1134.7,64.2 1135.0,57.1 1135.4,60.7 1135.8,64.2 1136.1,53.6 1136.5,53.9 1136.8,51.5 1137.2,51.1 1137.6,53.0 1137.9,53.2 1138.3,63.0 1138.7,66.6 1139.0,64.7 1139.4,73.0 1139.7,65.3 1140.1,65.8 1140.5,73.6 1140.8,70.6 1141.2,74.9 1141.5,79.8 1141.9,78.5 1142.3,78.4 1142.6,79.1 1143.0,73.1 1143.3,71.3 1143.7,72.9 1144.1,64.6 1144.4,62.0 1144.8,62.2 1145.1,67.5 1145.5,62.4 1145.9,66.1 1146.2,62.5 1146.6,57.3 1146.9,54.0 1147.3,60.5 1147.7,58.0 1148.0,59.2 1148.4,61.6 1148.8,62.2 1149.1,69.3 1149.5,67.3 1149.8,73.2 1150.2,68.4 1150.6,67.6 1150.9,72.6 1151.3,74.1 1151.6,73.9 1152.0,79.7 1152.4,78.7 1152.7,70.9 1153.1,69.2 1153.4,81.3 1153.8,69.9 1154.2,65.6 1154.5,65.3 1154.9,67.8 1155.2,63.8 1155.6,58.6 1156.0,61.9 1156.3,58.5 1156.7,59.2 1157.0,49.5 1157.4,45.5 1157.8,57.3 1158.1,57.0 1158.5,57.7 1158.8,60.4 1159.2,62.9 1159.6,71.5 1159.9,68.1 1160.3,67.2 1160.7,67.6 1161.0,65.6 1161.4,67.9 1161.7,74.1 1162.1,75.3 1162.5,72.0 1162.8,68.2 1163.2,73.9 1163.5,76.7 1163.9,66.3 1164.3,65.7 1164.6,61.4 1165.0,62.1 1165.3,62.5 1165.7,60.6 1166.1,61.6 1166.4,58.7 1166.8,63.8 1167.1,49.1 1167.5,44.1 1167.9,60.1 1168.2,62.3 1168.6,54.6 1169.0,63.8 1169.3,65.8 1169.7,67.6 1170.0,73.1 1170.4,73.0 1170.8,68.2 1171.1,75.8 1171.5,75.0 1171.8,69.8 1172.2,78.6 1172.6,78.2 1172.9,75.0 1173.3,72.7 1173.6,73.3 1174.0,66.8 1174.4,75.5 1174.7,64.5 1175.1,65.1 1175.4,61.2 1175.8,60.5 1176.2,65.3 1176.5,60.5 1176.9,51.3 1177.2,57.3 1177.6,57.1 1178.0,49.6 1178.3,63.7 1178.7,61.2 1179.1,65.7 1179.4,59.2 1179.8,74.8 1180.1,70.9 1180.5,77.2 1180.9,68.2 1181.2,64.1 1181.6,74.9 1181.9,81.0 1182.3,70.8 1182.7,83.5 1183.0,77.0 1183.4,74.5 1183.7,74.1 1184.1,70.6 1184.5,63.6 1184.8,64.6 1185.2,62.9 1185.5,64.0 1185.9,62.8 1186.3,61.5 1186.6,59.7 1187.0,61.0 1187.3,55.3 1187.7,50.1 1188.1,54.3 1188.4,53.9 1188.8,60.3 1189.2,61.6 1189.5,62.1 1189.9,65.5 1190.2,66.5 1190.6,66.5 1191.0,69.0 1191.3,70.7 1191.7,68.5 1192.0,73.6 1192.4,73.7 1192.8,72.8 1193.1,74.2 1193.5,72.1 1193.8,70.1 1194.2,63.0" fill="none" stroke="#20708e" stroke-width="1.3" stroke-linejoin="round"/>
<polyline points="992.2,96.1 992.6,92.1 992.9,97.3 993.3,96.4 993.6,95.0 994.0,88.8 994.4,87.2 994.7,90.3 995.1,90.7 995.4,94.2 995.8,92.1 996.2,95.3 996.5,97.5 996.9,98.9 997.2,102.2 997.6,107.5 998.0,105.7 998.3,98.1 998.7,101.0 999.1,106.6 999.4,104.5 999.8,109.9 1000.1,112.8 1000.5,107.0 1000.9,110.7 1001.2,105.6 1001.6,93.6 1001.9,104.1 1002.3,90.5 1002.7,100.9 1003.0,95.5 1003.4,97.1 1003.7,94.8 1004.1,89.9 1004.5,84.6 1004.8,84.7 1005.2,88.3 1005.5,80.5 1005.9,92.5 1006.3,95.2 1006.6,91.6 1007.0,106.1 1007.4,102.5 1007.7,100.7 1008.1,102.0 1008.4,100.1 1008.8,97.8 1009.2,105.8 1009.5,107.0 1009.9,112.9 1010.2,114.6 1010.6,112.5 1011.0,104.4 1011.3,106.5 1011.7,102.0 1012.0,97.2 1012.4,98.5 1012.8,97.6 1013.1,93.4 1013.5,96.6 1013.8,99.5 1014.2,98.4 1014.6,94.3 1014.9,99.0 1015.3,92.6 1015.6,98.8 1016.0,95.7 1016.4,97.6 1016.7,101.9 1017.1,98.8 1017.5,103.3 1017.8,104.9 1018.2,105.0 1018.5,102.1 1018.9,103.2 1019.3,99.8 1019.6,110.8 1020.0,108.9 1020.3,111.1 1020.7,110.9 1021.1,105.4 1021.4,107.4 1021.8,104.0 1022.1,99.7 1022.5,96.4 1022.9,94.3 1023.2,95.3 1023.6,98.8 1023.9,95.1 1024.3,96.9 1024.7,93.0 1025.0,86.9 1025.4,80.0 1025.7,89.5 1026.1,97.7 1026.5,90.5 1026.8,96.5 1027.2,104.7 1027.5,101.5 1027.9,96.6 1028.3,103.8 1028.6,104.0 1029.0,98.0 1029.4,105.4 1029.7,100.9 1030.1,111.0 1030.4,108.6 1030.8,105.1 1031.2,112.0 1031.5,99.8 1031.9,100.6 1032.2,91.8 1032.6,97.0 1033.0,93.2 1033.3,92.2 1033.7,90.1 1034.0,94.4 1034.4,94.0 1034.8,87.3 1035.1,87.1 1035.5,89.7 1035.8,86.1 1036.2,89.0 1036.6,91.9 1036.9,85.0 1037.3,99.9 1037.7,102.1 1038.0,99.8 1038.4,104.9 1038.7,104.0 1039.1,100.1 1039.5,101.2 1039.8,106.4 1040.2,109.1 1040.5,110.8 1040.9,112.1 1041.3,110.8 1041.6,104.7 1042.0,107.1 1042.3,98.1 1042.7,106.8 1043.1,98.3 1043.4,102.6 1043.8,94.5 1044.1,92.9 1044.5,99.5 1044.9,88.5 1045.2,86.7 1045.6,88.1 1045.9,93.4 1046.3,86.5 1046.7,92.5 1047.0,97.6 1047.4,102.4 1047.8,100.3 1048.1,105.4 1048.5,100.2 1048.8,100.3 1049.2,100.6 1049.6,107.4 1049.9,108.7 1050.3,117.7 1050.6,112.4 1051.0,119.5 1051.4,114.3 1051.7,109.0 1052.1,103.8 1052.4,96.7 1052.8,100.6 1053.2,95.0 1053.5,93.7 1053.9,95.0 1054.2,96.5 1054.6,97.4 1055.0,93.3 1055.3,92.8 1055.7,85.5 1056.0,88.6 1056.4,87.6 1056.8,94.6 1057.1,94.6 1057.5,96.2 1057.9,101.4 1058.2,99.8 1058.6,103.4 1058.9,97.4 1059.3,104.0 1059.7,104.8 1060.0,109.3 1060.4,107.8 1060.7,111.9 1061.1,105.4 1061.5,110.9 1061.8,104.2 1062.2,100.2 1062.5,102.3 1062.9,94.6 1063.3,97.5 1063.6,96.8 1064.0,94.3 1064.3,98.1 1064.7,100.8 1065.1,89.3 1065.4,86.2 1065.8,82.7 1066.1,91.3 1066.5,90.7 1066.9,85.9 1067.2,89.6 1067.6,94.3 1068.0,107.4 1068.3,103.6 1068.7,105.2 1069.0,100.7 1069.4,99.3 1069.8,104.4 1070.1,108.0 1070.5,104.4 1070.8,109.3 1071.2,111.9 1071.6,107.6 1071.9,111.5 1072.3,106.9 1072.6,105.4 1073.0,94.2 1073.4,99.2 1073.7,99.5 1074.1,96.7 1074.4,98.6 1074.8,97.2 1075.2,90.1 1075.5,85.3 1075.9,87.9 1076.2,89.5 1076.6,94.9 1077.0,95.8 1077.3,97.8 1077.7,97.7 1078.0,101.9 1078.4,107.4 1078.8,104.6 1079.1,98.7 1079.5,106.6 1079.9,104.9 1080.2,110.0 1080.6,107.7 1080.9,118.7 1081.3,108.2 1081.7,108.7 1082.0,107.3 1082.4,104.7 1082.7,100.6 1083.1,97.7 1083.5,102.6 1083.8,98.8 1084.2,96.0 1084.5,96.4 1084.9,92.4 1085.3,93.2 1085.6,96.9 1086.0,92.8 1086.3,89.4 1086.7,91.7 1087.1,94.6 1087.4,102.2 1087.8,100.6 1088.2,102.1 1088.5,104.8 1088.9,100.0 1089.2,99.0 1089.6,104.3 1090.0,105.2 1090.3,102.4 1090.7,108.8 1091.0,106.8 1091.4,108.7 1091.8,114.3 1092.1,107.7 1092.5,103.9 1092.8,101.8 1093.2,93.3 1093.6,97.8 1093.9,92.4 1094.3,101.2 1094.6,94.5 1095.0,100.9 1095.4,91.5 1095.7,88.1 1096.1,88.4 1096.4,89.7 1096.8,89.9 1097.2,87.1 1097.5,90.1 1097.9,90.1 1098.2,101.2 1098.6,97.9 1099.0,99.5 1099.3,101.7 1099.7,103.6 1100.1,101.6 1100.4,106.1 1100.8,105.5 1101.1,106.1 1101.5,104.8 1101.9,111.1 1102.2,105.1 1102.6,109.3 1102.9,100.0 1103.3,98.8 1103.7,95.9 1104.0,98.3 1104.4,99.9 1104.7,96.8 1105.1,98.7 1105.5,93.1 1105.8,92.4 1106.2,88.0 1106.5,95.9 1106.9,94.3 1107.3,106.1 1107.6,93.6 1108.0,97.5 1108.4,96.7 1108.7,101.4 1109.1,100.6 1109.4,104.8 1109.8,103.4 1110.2,104.7 1110.5,104.2 1110.9,109.9 1111.2,109.2 1111.6,110.7 1112.0,108.7 1112.3,110.0 1112.7,104.9 1113.0,107.1 1113.4,102.8 1113.8,97.7 1114.1,97.9 1114.5,95.6 1114.8,98.2 1115.2,100.1 1115.6,96.4 1115.9,92.8 1116.3,90.8 1116.6,90.0 1117.0,92.4 1117.4,96.7 1117.7,90.2 1118.1,99.9 1118.5,97.0 1118.8,99.2 1119.2,105.3 1119.5,103.6 1119.9,102.7 1120.3,101.9 1120.6,104.0 1121.0,107.7 1121.3,108.5 1121.7,106.8 1122.1,114.9 1122.4,110.4 1122.8,104.4 1123.1,99.8 1123.5,91.2 1123.9,95.4 1124.2,92.5 1124.6,93.2 1124.9,98.2 1125.3,97.6 1125.7,96.3 1126.0,83.6 1126.4,86.0 1126.7,90.0 1127.1,89.4 1127.5,91.0 1127.8,95.3 1128.2,91.6 1128.6,97.7 1128.9,102.9 1129.3,100.4 1129.6,98.7 1130.0,102.6 1130.4,101.0 1130.7,98.0 1131.1,108.3 1131.4,113.6 1131.8,114.3 1132.2,104.2 1132.5,109.3 1132.9,104.8 1133.2,105.5 1133.6,101.4 1134.0,84.5 1134.3,96.5 1134.7,98.2 1135.0,91.1 1135.4,94.7 1135.8,98.2 1136.1,87.6 1136.5,87.9 1136.8,85.5 1137.2,85.1 1137.6,87.0 1137.9,87.2 1138.3,97.0 1138.7,100.6 1139.0,98.7 1139.4,107.0 1139.7,99.3 1140.1,99.8 1140.5,107.6 1140.8,104.6 1141.2,108.9 1141.5,113.8 1141.9,112.5 1142.3,112.4 1142.6,113.1 1143.0,107.1 1143.3,105.3 1143.7,106.9 1144.1,98.6 1144.4,96.0 1144.8,96.2 1145.1,101.5 1145.5,96.4 1145.9,100.1 1146.2,96.5 1146.6,91.3 1146.9,88.0 1147.3,94.5 1147.7,92.0 1148.0,93.2 1148.4,95.6 1148.8,96.2 1149.1,103.3 1149.5,101.3 1149.8,107.2 1150.2,102.4 1150.6,101.6 1150.9,106.6 1151.3,108.1 1151.6,107.9 1152.0,113.7 1152.4,112.7 1152.7,104.9 1153.1,103.2 1153.4,115.3 1153.8,103.9 1154.2,99.6 1154.5,99.3 1154.9,101.8 1155.2,97.8 1155.6,92.6 1156.0,95.9 1156.3,92.5 1156.7,93.2 1157.0,83.5 1157.4,79.5 1157.8,91.3 1158.1,91.0 1158.5,91.7 1158.8,94.4 1159.2,96.9 1159.6,105.5 1159.9,102.1 1160.3,101.2 1160.7,101.6 1161.0,99.6 1161.4,101.9 1161.7,108.1 1162.1,109.3 1162.5,106.0 1162.8,102.2 1163.2,107.9 1163.5,110.7 1163.9,100.3 1164.3,99.7 1164.6,95.4 1165.0,96.1 1165.3,96.5 1165.7,94.6 1166.1,95.6 1166.4,92.7 1166.8,97.8 1167.1,83.1 1167.5,78.1 1167.9,94.1 1168.2,96.3 1168.6,88.6 1169.0,97.8 1169.3,99.8 1169.7,101.6 1170.0,107.1 1170.4,107.0 1170.8,102.2 1171.1,109.8 1171.5,109.0 1171.8,103.8 1172.2,112.6 1172.6,112.2 1172.9,109.0 1173.3,106.7 1173.6,107.3 1174.0,100.8 1174.4,109.5 1174.7,98.5 1175.1,99.1 1175.4,95.2 1175.8,94.5 1176.2,99.3 1176.5,94.5 1176.9,85.3 1177.2,91.3 1177.6,91.1 1178.0,83.6 1178.3,97.7 1178.7,95.2 1179.1,99.7 1179.4,93.2 1179.8,108.8 1180.1,104.9 1180.5,111.2 1180.9,102.2 1181.2,98.1 1181.6,108.9 1181.9,115.0 1182.3,104.8 1182.7,117.5 1183.0,111.0 1183.4,108.5 1183.7,108.1 1184.1,104.6 1184.5,97.6 1184.8,98.6 1185.2,96.9 1185.5,98.0 1185.9,96.8 1186.3,95.5 1186.6,93.7 1187.0,95.0 1187.3,89.3 1187.7,84.1 1188.1,88.3 1188.4,87.9 1188.8,94.3 1189.2,95.6 1189.5,96.1 1189.9,99.5 1190.2,100.5 1190.6,100.5 1191.0,103.0 1191.3,104.7 1191.7,102.5 1192.0,107.6 1192.4,107.7 1192.8,106.8 1193.1,108.2 1193.5,106.1 1193.8,104.1 1194.2,97.0" fill="none" stroke="#7c1f7c" stroke-width="1.3" stroke-linejoin="round"/>
<polyline points="992.2,132.6 992.6,128.6 992.9,133.8 993.3,132.9 993.6,131.5 994.0,125.3 994.4,123.7 994.7,126.8 995.1,127.2 995.4,130.7 995.8,128.6 996.2,131.8 996.5,134.0 996.9,135.4 997.2,138.7 997.6,144.0 998.0,142.2 998.3,134.6 998.7,137.5 999.1,143.1 999.4,141.0 999.8,146.4 1000.1,149.3 1000.5,143.5 1000.9,147.2 1001.2,142.1 1001.6,130.1 1001.9,140.6 1002.3,127.0 1002.7,137.4 1003.0,132.0 1003.4,133.6 1003.7,131.3 1004.1,126.4 1004.5,121.1 1004.8,121.2 1005.2,124.8 1005.5,117.0 1005.9,129.0 1006.3,131.7 1006.6,128.1 1007.0,142.6 1007.4,139.0 1007.7,137.2 1008.1,138.5 1008.4,136.6 1008.8,134.3 1009.2,142.3 1009.5,143.5 1009.9,149.4 1010.2,151.1 1010.6,149.0 1011.0,140.9 1011.3,143.0 1011.7,138.5 1012.0,133.7 1012.4,135.0 1012.8,134.1 1013.1,129.9 1013.5,133.1 1013.8,136.0 1014.2,134.9 1014.6,130.8 1014.9,135.5 1015.3,129.1 1015.6,135.3 1016.0,132.2 1016.4,134.1 1016.7,138.4 1017.1,135.3 1017.5,139.8 1017.8,141.4 1018.2,141.5 1018.5,138.6 1018.9,139.7 1019.3,136.3 1019.6,147.3 1020.0,145.4 1020.3,147.6 1020.7,147.4 1021.1,141.9 1021.4,143.9 1021.8,140.5 1022.1,136.2 1022.5,132.9 1022.9,130.8 1023.2,131.8 1023.6,135.3 1023.9,131.6 1024.3,133.4 1024.7,129.5 1025.0,123.4 1025.4,116.5 1025.7,126.0 1026.1,134.2 1026.5,127.0 1026.8,133.0 1027.2,141.2 1027.5,138.0 1027.9,133.1 1028.3,140.3 1028.6,140.5 1029.0,134.5 1029.4,141.9 1029.7,137.4 1030.1,147.5 1030.4,145.1 1030.8,141.6 1031.2,148.5 1031.5,136.3 1031.9,137.1 1032.2,128.3 1032.6,133.5 1033.0,129.7 1033.3,128.7 1033.7,126.6 1034.0,130.9 1034.4,130.5 1034.8,123.8 1035.1,123.6 1035.5,126.2 1035.8,122.6 1036.2,125.5 1036.6,128.4 1036.9,121.5 1037.3,136.4 1037.7,138.6 1038.0,136.3 1038.4,141.4 1038.7,140.5 1039.1,136.6 1039.5,137.7 1039.8,142.9 1040.2,145.6 1040.5,147.3 1040.9,148.6 1041.3,147.3 1041.6,141.2 1042.0,143.6 1042.3,134.6 1042.7,143.3 1043.1,134.8 1043.4,139.1 1043.8,131.0 1044.1,129.4 1044.5,136.0 1044.9,125.0 1045.2,123.2 1045.6,124.6 1045.9,129.9 1046.3,123.0 1046.7,129.0 1047.0,134.1 1047.4,138.9 1047.8,136.8 1048.1,141.9 1048.5,136.7 1048.8,136.8 1049.2,137.1 1049.6,143.9 1049.9,145.2 1050.3,154.2 1050.6,148.9 1051.0,156.0 1051.4,150.8 1051.7,145.5 1052.1,140.3 1052.4,133.2 1052.8,137.1 1053.2,131.5 1053.5,130.2 1053.9,131.5 1054.2,133.0 1054.6,133.9 1055.0,129.8 1055.3,129.3 1055.7,122.0 1056.0,125.1 1056.4,124.1 1056.8,131.1 1057.1,131.1 1057.5,132.7 1057.9,137.9 1058.2,136.3 1058.6,139.9 1058.9,133.9 1059.3,140.5 1059.7,141.3 1060.0,145.8 1060.4,144.3 1060.7,148.4 1061.1,141.9 1061.5,147.4 1061.8,140.7 1062.2,136.7 1062.5,138.8 1062.9,131.1 1063.3,134.0 1063.6,133.3 1064.0,130.8 1064.3,134.6 1064.7,137.3 1065.1,125.8 1065.4,122.7 1065.8,119.2 1066.1,127.8 1066.5,127.2 1066.9,122.4 1067.2,126.1 1067.6,130.8 1068.0,143.9 1068.3,140.1 1068.7,141.7 1069.0,137.2 1069.4,135.8 1069.8,140.9 1070.1,144.5 1070.5,140.9 1070.8,145.8 1071.2,148.4 1071.6,144.1 1071.9,148.0 1072.3,143.4 1072.6,141.9 1073.0,130.7 1073.4,135.7 1073.7,136.0 1074.1,133.2 1074.4,135.1 1074.8,133.7 1075.2,126.6 1075.5,121.8 1075.9,124.4 1076.2,126.0 1076.6,131.4 1077.0,132.3 1077.3,134.3 1077.7,134.2 1078.0,138.4 1078.4,143.9 1078.8,141.1 1079.1,135.2 1079.5,143.1 1079.9,141.4 1080.2,146.5 1080.6,144.2 1080.9,155.2 1081.3,144.7 1081.7,145.2 1082.0,143.8 1082.4,141.2 1082.7,137.1 1083.1,134.2 1083.5,139.1 1083.8,135.3 1084.2,132.5 1084.5,132.9 1084.9,128.9 1085.3,129.7 1085.6,133.4 1086.0,129.3 1086.3,125.9 1086.7,128.2 1087.1,131.1 1087.4,138.7 1087.8,137.1 1088.2,138.6 1088.5,141.3 1088.9,136.5 1089.2,135.5 1089.6,140.8 1090.0,141.7 1090.3,138.9 1090.7,145.3 1091.0,143.3 1091.4,145.2 1091.8,150.8 1092.1,144.2 1092.5,140.4 1092.8,138.3 1093.2,129.8 1093.6,134.3 1093.9,128.9 1094.3,137.7 1094.6,131.0 1095.0,137.4 1095.4,128.0 1095.7,124.6 1096.1,124.9 1096.4,126.2 1096.8,126.4 1097.2,123.6 1097.5,126.6 1097.9,126.6 1098.2,137.7 1098.6,134.4 1099.0,136.0 1099.3,138.2 1099.7,140.1 1100.1,138.1 1100.4,142.6 1100.8,142.0 1101.1,142.6 1101.5,141.3 1101.9,147.6 1102.2,141.6 1102.6,145.8 1102.9,136.5 1103.3,135.3 1103.7,132.4 1104.0,134.8 1104.4,136.4 1104.7,133.3 1105.1,135.2 1105.5,129.6 1105.8,128.9 1106.2,124.5 1106.5,132.4 1106.9,130.8 1107.3,142.6 1107.6,130.1 1108.0,134.0 1108.4,133.2 1108.7,137.9 1109.1,137.1 1109.4,141.3 1109.8,139.9 1110.2,141.2 1110.5,140.7 1110.9,146.4 1111.2,145.7 1111.6,147.2 1112.0,145.2 1112.3,146.5 1112.7,141.4 1113.0,143.6 1113.4,139.3 1113.8,134.2 1114.1,134.4 1114.5,132.1 1114.8,134.7 1115.2,136.6 1115.6,132.9 1115.9,129.3 1116.3,127.3 1116.6,126.5 1117.0,128.9 1117.4,133.2 1117.7,126.7 1118.1,136.4 1118.5,133.5 1118.8,135.7 1119.2,141.8 1119.5,140.1 1119.9,139.2 1120.3,138.4 1120.6,140.5 1121.0,144.2 1121.3,145.0 1121.7,143.3 1122.1,151.4 1122.4,146.9 1122.8,140.9 1123.1,136.3 1123.5,127.7 1123.9,131.9 1124.2,129.0 1124.6,129.7 1124.9,134.7 1125.3,134.1 1125.7,132.8 1126.0,120.1 1126.4,122.5 1126.7,126.5 1127.1,125.9 1127.5,127.5 1127.8,131.8 1128.2,128.1 1128.6,134.2 1128.9,139.4 1129.3,136.9 1129.6,135.2 1130.0,139.1 1130.4,137.5 1130.7,134.5 1131.1,144.8 1131.4,150.1 1131.8,150.8 1132.2,140.7 1132.5,145.8 1132.9,141.3 1133.2,142.0 1133.6,137.9 1134.0,121.0 1134.3,133.0 1134.7,134.7 1135.0,127.6 1135.4,131.2 1135.8,134.7 1136.1,124.1 1136.5,124.4 1136.8,122.0 1137.2,121.6 1137.6,123.5 1137.9,123.7 1138.3,133.5 1138.7,137.1 1139.0,135.2 1139.4,143.5 1139.7,135.8 1140.1,136.3 1140.5,144.1 1140.8,141.1 1141.2,145.4 1141.5,150.3 1141.9,149.0 1142.3,148.9 1142.6,149.6 1143.0,143.6 1143.3,141.8 1143.7,143.4 1144.1,135.1 1144.4,132.5 1144.8,132.7 1145.1,138.0 1145.5,132.9 1145.9,136.6 1146.2,133.0 1146.6,127.8 1146.9,124.5 1147.3,131.0 1147.7,128.5 1148.0,129.7 1148.4,132.1 1148.8,132.7 1149.1,139.8 1149.5,137.8 1149.8,143.7 1150.2,138.9 1150.6,138.1 1150.9,143.1 1151.3,144.6 1151.6,144.4 1152.0,150.2 1152.4,149.2 1152.7,141.4 1153.1,139.7 1153.4,151.8 1153.8,140.4 1154.2,136.1 1154.5,135.8 1154.9,138.3 1155.2,134.3 1155.6,129.1 1156.0,132.4 1156.3,129.0 1156.7,129.7 1157.0,120.0 1157.4,116.0 1157.8,127.8 1158.1,127.5 1158.5,128.2 1158.8,130.9 1159.2,133.4 1159.6,142.0 1159.9,138.6 1160.3,137.7 1160.7,138.1 1161.0,136.1 1161.4,138.4 1161.7,144.6 1162.1,145.8 1162.5,142.5 1162.8,138.7 1163.2,144.4 1163.5,147.2 1163.9,136.8 1164.3,136.2 1164.6,131.9 1165.0,132.6 1165.3,133.0 1165.7,131.1 1166.1,132.1 1166.4,129.2 1166.8,134.3 1167.1,119.6 1167.5,114.6 1167.9,130.6 1168.2,132.8 1168.6,125.1 1169.0,134.3 1169.3,136.3 1169.7,138.1 1170.0,143.6 1170.4,143.5 1170.8,138.7 1171.1,146.3 1171.5,145.5 1171.8,140.3 1172.2,149.1 1172.6,148.7 1172.9,145.5 1173.3,143.2 1173.6,143.8 1174.0,137.3 1174.4,146.0 1174.7,135.0 1175.1,135.6 1175.4,131.7 1175.8,131.0 1176.2,135.8 1176.5,131.0 1176.9,121.8 1177.2,127.8 1177.6,127.6 1178.0,120.1 1178.3,134.2 1178.7,131.7 1179.1,136.2 1179.4,129.7 1179.8,145.3 1180.1,141.4 1180.5,147.7 1180.9,138.7 1181.2,134.6 1181.6,145.4 1181.9,151.5 1182.3,141.3 1182.7,154.0 1183.0,147.5 1183.4,145.0 1183.7,144.6 1184.1,141.1 1184.5,134.1 1184.8,135.1 1185.2,133.4 1185.5,134.5 1185.9,133.3 1186.3,132.0 1186.6,130.2 1187.0,131.5 1187.3,125.8 1187.7,120.6 1188.1,124.8 1188.4,124.4 1188.8,130.8 1189.2,132.1 1189.5,132.6 1189.9,136.0 1190.2,137.0 1190.6,137.0 1191.0,139.5 1191.3,141.2 1191.7,139.0 1192.0,144.1 1192.4,144.2 1192.8,143.3 1193.1,144.7 1193.5,142.6 1193.8,140.6 1194.2,133.5" fill="none" stroke="#1a4f6c" stroke-width="1.3" stroke-linejoin="round"/>
<rect x="990" y="41.7" width="65.5" height="121.4" fill="none" stroke="#454b50" stroke-width="1.2" stroke-dasharray="3.6 2.6"/>
<rect x="1019.3" y="41.7" width="64.4" height="121.4" fill="none" stroke="#e08a52" stroke-width="1.2" stroke-dasharray="3.6 2.6"/>
<text x="1201.0" y="69.6" font-size="9" text-anchor="start" fill="#3e3428" stroke="#3e3428" stroke-width="0.25">CH1</text>
<text x="1201.0" y="104.4" font-size="9" text-anchor="start" fill="#3e3428" stroke="#3e3428" stroke-width="0.25">CH2</text>
<text x="1204.5" y="120.8" font-size="12" text-anchor="start" fill="#3e3428" >...</text>
<text x="1201.0" y="139.6" font-size="9" text-anchor="start" fill="#3e3428" stroke="#3e3428" stroke-width="0.25">CH63</text>
<polyline points="272.6,397.0 272.6,337.0" fill="none" stroke="#0a0a0a" stroke-width="2.7" />
<polygon points="272.6,329.5 268.8,336.9 276.4,336.9" fill="#0a0a0a"/>
<rect x="267.20" y="397.00" width="10.70" height="10.16" fill="#dbe8d6" stroke="#2c4a60" stroke-width="1.15"/><rect x="267.20" y="407.16" width="10.70" height="10.16" fill="#dbe8d6" stroke="#2c4a60" stroke-width="1.15"/><rect x="267.20" y="417.31" width="10.70" height="10.16" fill="#dbe8d6" stroke="#2c4a60" stroke-width="1.15"/><rect x="267.20" y="427.47" width="10.70" height="10.16" fill="#f3d3d6" stroke="#2c4a60" stroke-width="1.15"/><rect x="267.20" y="437.62" width="10.70" height="10.16" fill="#f3d3d6" stroke="#2c4a60" stroke-width="1.15"/><rect x="267.20" y="447.78" width="10.70" height="10.16" fill="#f3d3d6" stroke="#2c4a60" stroke-width="1.15"/><rect x="267.20" y="457.93" width="10.70" height="10.16" fill="#faf0d2" stroke="#2c4a60" stroke-width="1.15"/><rect x="267.20" y="468.09" width="10.70" height="10.16" fill="#faf0d2" stroke="#2c4a60" stroke-width="1.15"/><rect x="267.20" y="478.24" width="10.70" height="10.16" fill="#faf0d2" stroke="#2c4a60" stroke-width="1.15"/>
<text x="280.2" y="376.1" font-size="13.7" text-anchor="start" fill="#111" >Unpatch</text>
<text transform="translate(260.5 447.3) rotate(-90)" font-size="13.7" text-anchor="middle" fill="#111">Output tokens</text>
<polyline points="294.0,513.8 272.7,513.8 272.7,497.0" fill="none" stroke="#0a0a0a" stroke-width="2.7" />
<polygon points="272.7,489.6 268.7,497.2 276.7,497.2" fill="#0a0a0a"/>
<polyline points="312.0,513.8 326.0,513.8" fill="none" stroke="#10304d" stroke-width="2.4" />
<rect x="293.65" y="445.75" width="18.50" height="136.00" rx="5" fill="url(#gGreen)" stroke="#949494" stroke-width="1.7"/>
<rect x="325.85" y="445.75" width="34.70" height="136.00" rx="6" fill="url(#gPink)" stroke="#949494" stroke-width="1.7"/>
<text transform="translate(307.2 513.8) rotate(-90)" font-size="12.6" text-anchor="middle" fill="#111">Linear &amp; Reshape</text>
<text transform="translate(347.3 513.8) rotate(-90)" font-size="12.6" text-anchor="middle" fill="#111">Layer Norm</text>
<rect x="405.7" y="348.3" width="296.8" height="257.3" fill="#dbd3c3" filter="url(#sh)"/>
<rect x="391.5" y="361.5" width="297.5" height="258.6" fill="#e1d1a9" filter="url(#sh)"/>
<rect x="376.8" y="374.4" width="298.1" height="259.3" fill="#fbe3b5" filter="url(#sh)"/>
<text x="465.0" y="399.0" font-size="20.65" text-anchor="start" fill="#111" >N</text><text x="492.0" y="400.2" font-size="25.5" text-anchor="middle" fill="#111" >×</text><text x="661.5" y="399.0" font-size="20.65" text-anchor="end" fill="#111" >Transformer Block</text>
<polyline points="719.5,513.8 644.0,513.8" fill="none" stroke="#10304d" stroke-width="2.4" />
<polygon points="636.6,513.8 644.2,510.1 644.2,517.5" fill="#10304d"/>
<polyline points="586.0,513.8 547.0,513.8" fill="none" stroke="#10304d" stroke-width="2.4" />
<polygon points="540.0,513.8 547.6,510.1 547.6,517.5" fill="#10304d"/>
<polyline points="504.0,513.8 472.0,513.8" fill="none" stroke="#10304d" stroke-width="2.4" />
<polygon points="465.0,513.8 472.6,510.1 472.6,517.5" fill="#10304d"/>
<polyline points="429.5,513.8 369.0,513.8" fill="none" stroke="#10304d" stroke-width="2.4" />
<polygon points="361.6,513.8 369.2,510.1 369.2,517.5" fill="#10304d"/>
<polyline points="423.0,513.8 430.0,513.8" fill="none" stroke="#0a0a0a" stroke-width="2.7" />
<polyline points="498.0,513.8 505.0,513.8" fill="none" stroke="#0a0a0a" stroke-width="2.7" />
<polyline points="580.0,513.8 587.0,513.8" fill="none" stroke="#0a0a0a" stroke-width="2.7" />
<polyline points="473.8,513.8 473.8,425.2 414.7,425.2 414.7,439.0" fill="none" stroke="#10304d" stroke-width="2.4" />
<polygon points="414.7,445.3 411.0,437.7 418.4,437.7" fill="#10304d"/>
<polyline points="552.0,513.8 552.0,425.2 489.8,425.2 489.8,439.0" fill="none" stroke="#10304d" stroke-width="2.4" />
<polygon points="489.8,445.3 486.1,437.7 493.5,437.7" fill="#10304d"/>
<polyline points="651.9,513.8 651.9,425.2 571.5,425.2 571.5,439.0" fill="none" stroke="#10304d" stroke-width="2.4" />
<polygon points="571.5,445.3 567.8,437.7 575.2,437.7" fill="#10304d"/>
<rect x="405.95" y="445.75" width="17.00" height="136.00" rx="5" fill="url(#gAdd)" stroke="#949494" stroke-width="1.7"/>
<rect x="429.55" y="445.75" width="34.50" height="136.00" rx="6" fill="url(#gPink)" stroke="#949494" stroke-width="1.7"/>
<rect x="481.05" y="445.75" width="17.00" height="136.00" rx="5" fill="url(#gAdd)" stroke="#949494" stroke-width="1.7"/>
<linearGradient id="dg1" gradientUnits="userSpaceOnUse" x1="540.0" y1="444.9" x2="453.0" y2="531.9"><stop offset="0" stop-color="#ef9f76"/><stop offset="0.3" stop-color="#f3b494"/><stop offset="0.62" stop-color="#f9d6c2"/><stop offset="1" stop-color="#fce6da"/></linearGradient><rect x="504.65" y="445.75" width="34.50" height="136.00" rx="6" fill="url(#dg1)" stroke="#949494" stroke-width="1.7"/>
<rect x="562.95" y="445.75" width="17.00" height="136.00" rx="5" fill="url(#gAdd)" stroke="#949494" stroke-width="1.7"/>
<linearGradient id="dg2" gradientUnits="userSpaceOnUse" x1="636.5" y1="444.9" x2="542.2" y2="539.1"><stop offset="0" stop-color="#ef9f76"/><stop offset="0.3" stop-color="#f3b494"/><stop offset="0.62" stop-color="#f9d6c2"/><stop offset="1" stop-color="#fce6da"/></linearGradient><rect x="586.55" y="445.75" width="49.10" height="136.00" rx="8" fill="url(#dg2)" stroke="#949494" stroke-width="1.7"/>
<text transform="translate(418.4 513.8) rotate(-90)" font-size="12.6" text-anchor="middle" fill="#111">Add &amp; Norm</text>
<text transform="translate(443.5 513.6) rotate(-90)" font-size="12.6" text-anchor="middle" fill="#111">Pointwise</text>
<text transform="translate(458.7 513.8) rotate(-90)" font-size="12.6" text-anchor="middle" fill="#111">FeedForward</text>
<text transform="translate(493.5 513.8) rotate(-90)" font-size="12.6" text-anchor="middle" fill="#111">Add &amp; Norm</text>
<text transform="translate(519.6 513.6) rotate(-90)" font-size="12.6" text-anchor="middle" fill="#111">Multi-Head</text>
<text transform="translate(534.1 513.6) rotate(-90)" font-size="12.6" text-anchor="middle" fill="#111">Cross Attention</text>
<text transform="translate(575.4 513.8) rotate(-90)" font-size="12.6" text-anchor="middle" fill="#111">Add &amp; Norm</text>
<text transform="translate(607.6 513.6) rotate(-90)" font-size="12.6" text-anchor="middle" fill="#111">Multi-Head</text>
<text transform="translate(622.5 513.6) rotate(-90)" font-size="12.6" text-anchor="middle" fill="#111">Self Attention</text>
<text transform="translate(725.2 418.8) rotate(-90)" font-size="12.6" text-anchor="middle" fill="#111">Positional</text>
<text transform="translate(740.1 418.2) rotate(-90)" font-size="12.6" text-anchor="middle" fill="#111">Encoding</text>
<polyline points="731.3,489.0 731.3,502.0" fill="none" stroke="#34506b" stroke-width="1.2" />
<circle cx="731.2" cy="474.9" r="14.5" fill="url(#gCircS)" stroke="#2d4663" stroke-width="1.1"/>
<path d="M727 461.3C720.5 465 720.5 470 727 473.2C733.5 476.2 741.5 479 739.5 484.2C738.5 487 736.5 488.3 735 489.2" fill="none" stroke="#2d4663" stroke-width="1.2"/>
<circle cx="731.2" cy="514" r="11.7" fill="url(#gCircP)" stroke="#2d4663" stroke-width="1.1"/>
<path d="M723.8 514H738.6M731.2 506.6V521.4" stroke="#7d7690" stroke-width="1.3" fill="none"/>
<polyline points="763.5,513.8 751.0,513.8" fill="none" stroke="#10304d" stroke-width="2.4" />
<polygon points="743.6,513.8 751.2,510.1 751.2,517.5" fill="#10304d"/>
<linearGradient id="dg3" gradientUnits="userSpaceOnUse" x1="804.4" y1="444.9" x2="714.9" y2="534.4"><stop offset="0" stop-color="#dfeaf8"/><stop offset="0.4" stop-color="#cfe6f7"/><stop offset="0.7" stop-color="#a6ddf6"/><stop offset="1" stop-color="#84d5f6"/></linearGradient><rect x="763.95" y="445.75" width="39.60" height="136.00" rx="8" fill="url(#dg3)" stroke="#949494" stroke-width="1.7"/>
<text transform="translate(779.9 513.5) rotate(-90)" font-size="12.6" text-anchor="middle" fill="#111">Input</text>
<text transform="translate(795.0 513.2) rotate(-90)" font-size="12.6" text-anchor="middle" fill="#111">Embedding</text>
<polyline points="835.4,331.0 835.4,389.0" fill="none" stroke="#0a0a0a" stroke-width="2.7" />
<polygon points="835.4,396.7 831.4,389.1 839.4,389.1" fill="#0a0a0a"/>
<rect x="830.20" y="396.80" width="10.80" height="10.18" fill="#e4eae1" stroke="#2c4a60" stroke-width="1.15"/><rect x="830.20" y="406.98" width="10.80" height="10.18" fill="#e4eae1" stroke="#2c4a60" stroke-width="1.15"/><rect x="830.20" y="417.16" width="10.80" height="10.18" fill="#e4eae1" stroke="#2c4a60" stroke-width="1.15"/><rect x="830.20" y="427.33" width="10.80" height="10.18" fill="#f1dfe1" stroke="#2c4a60" stroke-width="1.15"/><rect x="830.20" y="437.51" width="10.80" height="10.18" fill="#f1dfe1" stroke="#2c4a60" stroke-width="1.15"/><rect x="830.20" y="447.69" width="10.80" height="10.18" fill="#f1dfe1" stroke="#2c4a60" stroke-width="1.15"/><rect x="830.20" y="457.87" width="10.80" height="10.18" fill="#f4efe0" stroke="#2c4a60" stroke-width="1.15"/><rect x="830.20" y="468.04" width="10.80" height="10.18" fill="#f4efe0" stroke="#2c4a60" stroke-width="1.15"/><rect x="830.20" y="478.22" width="10.80" height="10.18" fill="#f4efe0" stroke="#2c4a60" stroke-width="1.15"/>
<text x="753.0" y="363.6" font-size="13.7" text-anchor="start" fill="#111" >Patch Embed</text>
<text transform="translate(821.6 445.5) rotate(-90)" font-size="13.7" text-anchor="middle" fill="#111">Input tokens</text>
<polyline points="835.8,488.4 835.8,513.8 812.0,513.8" fill="none" stroke="#0a0a0a" stroke-width="2.7" />
<polygon points="804.5,513.8 812.1,509.8 812.1,517.8" fill="#0a0a0a"/>
<rect x="867.3" y="374.4" width="303.5" height="259.5" fill="#fbe3b5"/>
<text x="879.0" y="402.2" font-size="20.65" text-anchor="start" fill="#111" >Condition-Aligned Block</text>
<polyline points="902.0,512.4 886.1,512.4 886.1,644.0 522.2,644.0 522.2,590.0" fill="none" stroke="#0a0a0a" stroke-width="2.7" />
<polygon points="522.2,582.6 518.2,590.2 526.2,590.2" fill="#0a0a0a"/>
<polyline points="934.0,512.4 920.0,512.4" fill="none" stroke="#0a0a0a" stroke-width="2.7" />
<polyline points="990.0,512.4 977.0,512.4" fill="none" stroke="#0a0a0a" stroke-width="2.7" />
<polygon points="969.9,512.4 977.5,508.4 977.5,516.4" fill="#0a0a0a"/>
<polyline points="1038.0,512.4 1033.0,512.4" fill="none" stroke="#10304d" stroke-width="2.4" />
<polygon points="1026.2,512.4 1033.8,508.7 1033.8,516.1" fill="#10304d"/>
<polyline points="1070.0,512.4 1064.0,512.4" fill="none" stroke="#0a0a0a" stroke-width="2.7" />
<polygon points="1057.0,512.4 1064.6,508.4 1064.6,516.4" fill="#0a0a0a"/>
<polyline points="1113.0,512.4 1101.0,512.4" fill="none" stroke="#10304d" stroke-width="2.4" />
<polygon points="1093.6,512.4 1101.2,508.7 1101.2,516.1" fill="#10304d"/>
<polyline points="1198.4,489.1 1198.4,512.4 1162.0,512.4" fill="none" stroke="#0a0a0a" stroke-width="2.7" />
<polygon points="1154.2,512.4 1161.8,508.4 1161.8,516.4" fill="#0a0a0a"/>
<polyline points="1045.0,580.8 1045.0,600.5 911.1,600.5" fill="none" stroke="#10304d" stroke-width="2.4" />
<polyline points="1009.8,619.4 911.1,619.4 911.1,589.0" fill="none" stroke="#0a0a0a" stroke-width="2.7" />
<polygon points="911.1,581.4 907.1,589.0 915.1,589.0" fill="#0a0a0a"/>
<text x="1021" y="626" font-size="22.5" font-style="italic" fill="#111">t</text>
<rect x="902.35" y="444.85" width="17.40" height="135.50" rx="5" fill="url(#gAdd)" stroke="#949494" stroke-width="1.7"/>
<rect x="934.35" y="444.85" width="34.70" height="135.50" rx="6" fill="url(#gPink)" stroke="#949494" stroke-width="1.7"/>
<linearGradient id="dg4" gradientUnits="userSpaceOnUse" x1="1026.1" y1="444.0" x2="939.1" y2="531.0"><stop offset="0" stop-color="#ef9f76"/><stop offset="0.3" stop-color="#f3b494"/><stop offset="0.62" stop-color="#f9d6c2"/><stop offset="1" stop-color="#fce6da"/></linearGradient><rect x="990.15" y="444.85" width="35.10" height="135.50" rx="6" fill="url(#dg4)" stroke="#949494" stroke-width="1.7"/>
<rect x="1038.05" y="444.85" width="18.10" height="135.50" rx="5" fill="url(#gGreen)" stroke="#949494" stroke-width="1.7"/>
<rect x="1113.45" y="444.85" width="39.80" height="135.50" rx="8" fill="url(#gBlueV)" stroke="#949494" stroke-width="1.7"/>
<text transform="translate(915.8 512.8) rotate(-90)" font-size="12.6" text-anchor="middle" fill="#111">Add &amp; Norm</text>
<text transform="translate(948.4 512.6) rotate(-90)" font-size="12.6" text-anchor="middle" fill="#111">Pointwise</text>
<text transform="translate(963.6 512.4) rotate(-90)" font-size="12.6" text-anchor="middle" fill="#111">FeedForward</text>
<text transform="translate(1011.9 513.0) rotate(-90)" font-size="12.6" text-anchor="middle" fill="#111">Dim Reduction Conv</text>
<text transform="translate(1051.4 512.5) rotate(-90)" font-size="12.6" text-anchor="middle" fill="#111">Reshape</text>
<text transform="translate(1130.4 512.5) rotate(-90)" font-size="12.6" text-anchor="middle" fill="#111">Condition</text>
<text transform="translate(1145.7 512.3) rotate(-90)" font-size="12.6" text-anchor="middle" fill="#111">Embedding</text>
<polyline points="1081.8,524.0 1081.8,537.0" fill="none" stroke="#5b5560" stroke-width="1.2" />
<circle cx="1081.6" cy="512.4" r="11.8" fill="url(#gCircP2)" stroke="#6b6a6e" stroke-width="1.1"/>
<path d="M1074 512.4H1089.2M1081.6 504.8V520" stroke="#8a7e80" stroke-width="1.3" fill="none"/>
<circle cx="1081.6" cy="550.9" r="14.8" fill="url(#gCircS2)" stroke="#5f5e62" stroke-width="1.1"/>
<path d="M1083.6 537.4C1088 538.5 1092.5 541 1089.5 545C1087 548 1083 549 1079 552C1074.5 555.5 1072.5 558.5 1077.8 565" fill="none" stroke="#3f4a5a" stroke-width="1.2"/>
<text transform="translate(1078.9 600.7) rotate(-90)" font-size="12.6" text-anchor="middle" fill="#111">Positional</text>
<text transform="translate(1094.2 600.0) rotate(-90)" font-size="12.6" text-anchor="middle" fill="#111">Encoding</text>
<polyline points="1198.3,331.0 1198.3,389.0" fill="none" stroke="#0a0a0a" stroke-width="2.7" />
<polygon points="1198.3,397.5 1194.3,389.9 1202.3,389.9" fill="#0a0a0a"/>
<rect x="1192.60" y="397.60" width="10.80" height="10.17" fill="url(#spk)" stroke="#2f6178" stroke-width="1.15"/><rect x="1192.60" y="407.77" width="10.80" height="10.17" fill="url(#spk)" stroke="#2f6178" stroke-width="1.15"/><rect x="1192.60" y="417.93" width="10.80" height="10.17" fill="url(#spk)" stroke="#2f6178" stroke-width="1.15"/><rect x="1192.60" y="428.10" width="10.80" height="10.17" fill="url(#spk)" stroke="#2f6178" stroke-width="1.15"/><rect x="1192.60" y="438.27" width="10.80" height="10.17" fill="url(#spk)" stroke="#2f6178" stroke-width="1.15"/><rect x="1192.60" y="448.43" width="10.80" height="10.17" fill="url(#spk)" stroke="#2f6178" stroke-width="1.15"/><rect x="1192.60" y="458.60" width="10.80" height="10.17" fill="url(#spk)" stroke="#2f6178" stroke-width="1.15"/><rect x="1192.60" y="468.77" width="10.80" height="10.17" fill="url(#spk)" stroke="#2f6178" stroke-width="1.15"/><rect x="1192.60" y="478.93" width="10.80" height="10.17" fill="url(#spk)" stroke="#2f6178" stroke-width="1.15"/>
<text x="1115.0" y="364.6" font-size="13.7" text-anchor="start" fill="#111" >Patch Embed</text>
<text transform="translate(1185.5 447.7) rotate(-90)" font-size="13.7" text-anchor="middle" fill="#111">Cond tokens</text>
<rect x="0" y="0" width="1268" height="2.6" fill="#e1e1e1"/>
<rect x="0" y="2" width="1268" height="1" fill="#d4d4d4" opacity="0.8"/>
<rect x="0" y="0" width="1.8" height="772" fill="#d9d9d9"/>
<rect x="0" y="769.4" width="1268" height="2.6" fill="#d6d6d6"/>
</svg></body></html>
